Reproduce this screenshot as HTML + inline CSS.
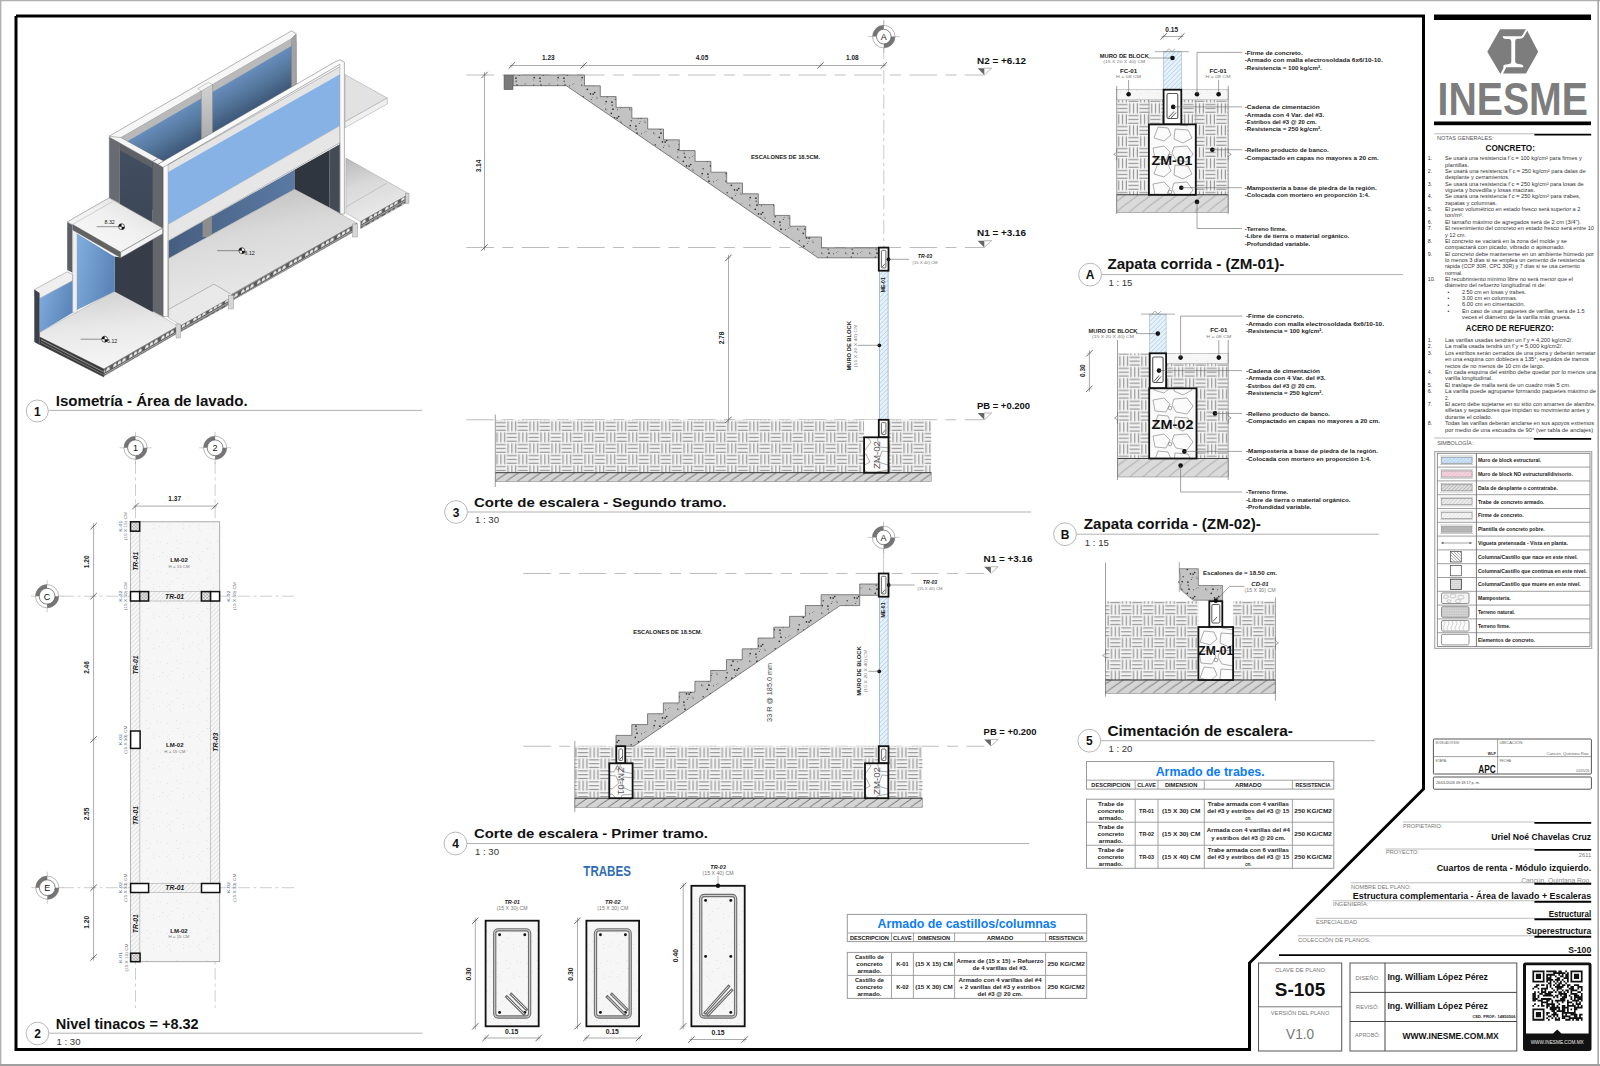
<!DOCTYPE html>
<html><head><meta charset="utf-8"><title>S-105</title>
<style>html,body{margin:0;padding:0;background:#fff;width:1600px;height:1066px;overflow:hidden;font-family:"Liberation Sans",sans-serif}svg{display:block}</style>
</head><body>
<svg width="1600" height="1066" viewBox="0 0 1600 1066" font-family="Liberation Sans, sans-serif"><defs><pattern id="pq3" x="495.3" y="420.8" width="22" height="22" patternUnits="userSpaceOnUse"><rect width="22" height="22" fill="#f4f4f4"/><g stroke="#8e8e8e" stroke-width="1.1"><line x1="0.4" y1="1.8" x2="10.6" y2="1.8"/><line x1="0.4" y1="5.6" x2="10.6" y2="5.6"/><line x1="0.4" y1="9.4" x2="10.6" y2="9.4"/><line x1="12.8" y1="0.4" x2="12.8" y2="10.6"/><line x1="16.6" y1="0.4" x2="16.6" y2="10.6"/><line x1="20.4" y1="0.4" x2="20.4" y2="10.6"/><line x1="1.8" y1="11.4" x2="1.8" y2="21.6"/><line x1="5.6" y1="11.4" x2="5.6" y2="21.6"/><line x1="9.4" y1="11.4" x2="9.4" y2="21.6"/><line x1="11.4" y1="12.8" x2="21.6" y2="12.8"/><line x1="11.4" y1="16.6" x2="21.6" y2="16.6"/><line x1="11.4" y1="20.4" x2="21.6" y2="20.4"/></g></pattern><pattern id="pq4" x="577.5" y="747.1" width="22" height="22" patternUnits="userSpaceOnUse"><rect width="22" height="22" fill="#f4f4f4"/><g stroke="#8e8e8e" stroke-width="1.1"><line x1="0.4" y1="1.8" x2="10.6" y2="1.8"/><line x1="0.4" y1="5.6" x2="10.6" y2="5.6"/><line x1="0.4" y1="9.4" x2="10.6" y2="9.4"/><line x1="12.8" y1="0.4" x2="12.8" y2="10.6"/><line x1="16.6" y1="0.4" x2="16.6" y2="10.6"/><line x1="20.4" y1="0.4" x2="20.4" y2="10.6"/><line x1="1.8" y1="11.4" x2="1.8" y2="21.6"/><line x1="5.6" y1="11.4" x2="5.6" y2="21.6"/><line x1="9.4" y1="11.4" x2="9.4" y2="21.6"/><line x1="11.4" y1="12.8" x2="21.6" y2="12.8"/><line x1="11.4" y1="16.6" x2="21.6" y2="16.6"/><line x1="11.4" y1="20.4" x2="21.6" y2="20.4"/></g></pattern><pattern id="pqA" x="1116.9" y="102.8" width="22" height="22" patternUnits="userSpaceOnUse"><rect width="22" height="22" fill="#f4f4f4"/><g stroke="#8e8e8e" stroke-width="1.1"><line x1="0.4" y1="1.8" x2="10.6" y2="1.8"/><line x1="0.4" y1="5.6" x2="10.6" y2="5.6"/><line x1="0.4" y1="9.4" x2="10.6" y2="9.4"/><line x1="12.8" y1="0.4" x2="12.8" y2="10.6"/><line x1="16.6" y1="0.4" x2="16.6" y2="10.6"/><line x1="20.4" y1="0.4" x2="20.4" y2="10.6"/><line x1="1.8" y1="11.4" x2="1.8" y2="21.6"/><line x1="5.6" y1="11.4" x2="5.6" y2="21.6"/><line x1="9.4" y1="11.4" x2="9.4" y2="21.6"/><line x1="11.4" y1="12.8" x2="21.6" y2="12.8"/><line x1="11.4" y1="16.6" x2="21.6" y2="16.6"/><line x1="11.4" y1="20.4" x2="21.6" y2="20.4"/></g></pattern><pattern id="pqB" x="1107.2" y="355.6" width="22" height="22" patternUnits="userSpaceOnUse"><rect width="22" height="22" fill="#f4f4f4"/><g stroke="#8e8e8e" stroke-width="1.1"><line x1="0.4" y1="1.8" x2="10.6" y2="1.8"/><line x1="0.4" y1="5.6" x2="10.6" y2="5.6"/><line x1="0.4" y1="9.4" x2="10.6" y2="9.4"/><line x1="12.8" y1="0.4" x2="12.8" y2="10.6"/><line x1="16.6" y1="0.4" x2="16.6" y2="10.6"/><line x1="20.4" y1="0.4" x2="20.4" y2="10.6"/><line x1="1.8" y1="11.4" x2="1.8" y2="21.6"/><line x1="5.6" y1="11.4" x2="5.6" y2="21.6"/><line x1="9.4" y1="11.4" x2="9.4" y2="21.6"/><line x1="11.4" y1="12.8" x2="21.6" y2="12.8"/><line x1="11.4" y1="16.6" x2="21.6" y2="16.6"/><line x1="11.4" y1="20.4" x2="21.6" y2="20.4"/></g></pattern><pattern id="pq5" x="1098.7" y="604.2" width="22" height="22" patternUnits="userSpaceOnUse"><rect width="22" height="22" fill="#f4f4f4"/><g stroke="#8e8e8e" stroke-width="1.1"><line x1="0.4" y1="1.8" x2="10.6" y2="1.8"/><line x1="0.4" y1="5.6" x2="10.6" y2="5.6"/><line x1="0.4" y1="9.4" x2="10.6" y2="9.4"/><line x1="12.8" y1="0.4" x2="12.8" y2="10.6"/><line x1="16.6" y1="0.4" x2="16.6" y2="10.6"/><line x1="20.4" y1="0.4" x2="20.4" y2="10.6"/><line x1="1.8" y1="11.4" x2="1.8" y2="21.6"/><line x1="5.6" y1="11.4" x2="5.6" y2="21.6"/><line x1="9.4" y1="11.4" x2="9.4" y2="21.6"/><line x1="11.4" y1="12.8" x2="21.6" y2="12.8"/><line x1="11.4" y1="16.6" x2="21.6" y2="16.6"/><line x1="11.4" y1="20.4" x2="21.6" y2="20.4"/></g></pattern><pattern id="conc" width="24" height="24" patternUnits="userSpaceOnUse"><rect width="24" height="24" fill="#c3c3c3"/><g fill="#333"><circle cx="5.7" cy="13.1" r="0.70"/><circle cx="22.0" cy="11.4" r="0.40"/><circle cx="14.5" cy="21.8" r="0.85"/><circle cx="6.2" cy="5.6" r="0.85"/><circle cx="13.0" cy="13.2" r="0.85"/><circle cx="15.3" cy="3.6" r="0.50"/><circle cx="20.8" cy="12.6" r="0.40"/><circle cx="16.1" cy="1.5" r="0.40"/><circle cx="7.2" cy="0.7" r="0.70"/><circle cx="11.3" cy="17.3" r="0.85"/><circle cx="17.1" cy="22.1" r="0.85"/><circle cx="17.5" cy="13.8" r="0.50"/><circle cx="21.1" cy="2.3" r="0.50"/><circle cx="11.9" cy="6.2" r="0.85"/><circle cx="18.7" cy="20.5" r="0.85"/><circle cx="12.2" cy="9.3" r="0.70"/></g><g fill="none" stroke="#888" stroke-width="0.4"><path d="M11.8,9.0 l1.2,0.6 l-0.9,0.8z"/><path d="M5.1,7.4 l1.2,0.6 l-0.9,0.8z"/><path d="M20.1,0.6 l1.2,0.6 l-0.9,0.8z"/><path d="M6.2,13.3 l1.2,0.6 l-0.9,0.8z"/></g></pattern><pattern id="speck" width="30" height="30" patternUnits="userSpaceOnUse"><rect width="30" height="30" fill="#f6f6f6"/><g fill="#b0b0b0"><circle cx="20.9" cy="21.0" r="0.35"/><circle cx="9.8" cy="16.3" r="0.35"/><circle cx="17.2" cy="3.1" r="0.35"/><circle cx="19.7" cy="19.0" r="0.35"/><circle cx="29.6" cy="8.0" r="0.35"/><circle cx="3.7" cy="14.5" r="0.35"/><circle cx="19.2" cy="14.5" r="0.35"/><circle cx="10.3" cy="2.0" r="0.35"/><circle cx="26.9" cy="0.6" r="0.35"/><circle cx="12.8" cy="12.5" r="0.35"/><circle cx="3.6" cy="18.1" r="0.35"/><circle cx="22.8" cy="11.3" r="0.35"/><circle cx="17.6" cy="16.5" r="0.35"/><circle cx="27.7" cy="8.4" r="0.35"/><circle cx="7.1" cy="1.1" r="0.35"/><circle cx="0.2" cy="3.2" r="0.35"/></g></pattern><pattern id="bh" width="3.2" height="3.2" patternUnits="userSpaceOnUse" patternTransform="rotate(45)"><rect width="3.2" height="3.2" fill="#e8f2fb"/><line x1="0" y1="0" x2="0" y2="3.2" stroke="#86b8e8" stroke-width="0.8"/></pattern><pattern id="gh" width="3.2" height="3.2" patternUnits="userSpaceOnUse" patternTransform="rotate(45)"><rect width="3.2" height="3.2" fill="#f6f6f6"/><line x1="0" y1="0" x2="0" y2="3.2" stroke="#bdbdbd" stroke-width="0.6"/></pattern><pattern id="stone" width="46" height="36" patternUnits="userSpaceOnUse"><rect width="46" height="36" fill="#fbfbfb"/><g fill="none" stroke="#777" stroke-width="0.6"><path d="M3,4 L14,2 L20,8 L16,16 L5,15 Z"/><path d="M24,3 L37,2 L43,10 L37,18 L26,16 L22,9 Z"/><path d="M8,19 L18,20 L21,27 L14,33 L4,30 Z"/><path d="M25,21 L38,22 L42,30 L33,35 L24,31 Z"/><path d="M19,10 l3,1 l-1,3 l-3,-1z"/></g></pattern><pattern id="sim0" width="2.6" height="2.6" patternUnits="userSpaceOnUse" patternTransform="rotate(45)"><rect width="2.6" height="2.6" fill="#cfe3f7"/><line x1="0" y1="0" x2="0" y2="2.6" stroke="#7aaee0" stroke-width="0.55"/></pattern><pattern id="sim1" width="2.6" height="2.6" patternUnits="userSpaceOnUse" patternTransform="rotate(45)"><rect width="2.6" height="2.6" fill="#f3d3de"/><line x1="0" y1="0" x2="0" y2="2.6" stroke="#d89ab0" stroke-width="0.55"/></pattern><pattern id="sim2" width="2.6" height="2.6" patternUnits="userSpaceOnUse" patternTransform="rotate(45)"><rect width="2.6" height="2.6" fill="#e0e0e0"/><line x1="0" y1="0" x2="0" y2="2.6" stroke="#666" stroke-width="0.55"/></pattern><pattern id="sim3" width="2.6" height="2.6" patternUnits="userSpaceOnUse" patternTransform="rotate(45)"><rect width="2.6" height="2.6" fill="#ececec"/><line x1="0" y1="0" x2="0" y2="2.6" stroke="#999" stroke-width="0.55"/></pattern><pattern id="sim4" width="2.6" height="2.6" patternUnits="userSpaceOnUse" patternTransform="rotate(45)"><rect width="2.6" height="2.6" fill="#f5f5f5"/><line x1="0" y1="0" x2="0" y2="2.6" stroke="#bbb" stroke-width="0.55"/></pattern><pattern id="xdot" width="2" height="2" patternUnits="userSpaceOnUse"><rect width="2" height="2" fill="#fff"/><circle cx="1" cy="1" r="0.55" fill="#555"/></pattern><linearGradient id="gBW" gradientUnits="userSpaceOnUse" x1="200" y1="92" x2="222" y2="130"><stop offset="0" stop-color="#6d94c6"/><stop offset="0.5" stop-color="#56799f"/><stop offset="1" stop-color="#3b5475"/></linearGradient><linearGradient id="gBW2" x1="0" y1="0" x2="1" y2="0"><stop offset="0" stop-color="#465e80"/><stop offset="1" stop-color="#5a7aa4"/></linearGradient><linearGradient id="gLB" x1="0" y1="0" x2="1" y2="0.4"><stop offset="0" stop-color="#82aee0"/><stop offset="1" stop-color="#5c86b9"/></linearGradient><linearGradient id="gDK" x1="0" y1="0" x2="0" y2="1"><stop offset="0" stop-color="#435063"/><stop offset="1" stop-color="#333b47"/></linearGradient><linearGradient id="gFL" x1="0" y1="0" x2="0.3" y2="1"><stop offset="0" stop-color="#b9b9b9"/><stop offset="0.45" stop-color="#d9d9d9"/><stop offset="1" stop-color="#eaeaea"/></linearGradient><linearGradient id="gFL2" x1="0.2" y1="0" x2="0.4" y2="1"><stop offset="0" stop-color="#d0d0d0"/><stop offset="0.5" stop-color="#e9e9e9"/><stop offset="1" stop-color="#f5f5f5"/></linearGradient><linearGradient id="gSL" x1="1" y1="0" x2="0" y2="1"><stop offset="0" stop-color="#d8d8d8"/><stop offset="0.45" stop-color="#f0f0f0"/><stop offset="1" stop-color="#fafafa"/></linearGradient><linearGradient id="gCOL" x1="0" y1="0" x2="0" y2="1"><stop offset="0" stop-color="#d2d2d2"/><stop offset="1" stop-color="#8f8f8f"/></linearGradient><pattern id="vb" width="16" height="6.2" patternUnits="userSpaceOnUse" patternTransform="skewY(-30)"><rect width="16" height="6.2" fill="#5a5a5a"/><path d="M0.8,5.2 l0.9,-3 h2.3 l0.9,3z M5.4,5.2 l0.9,-3 h2.3 l0.9,3z M10,5.2 l0.9,-3 h2.3 l0.9,3z" fill="#ececec"/><rect x="0" y="0" width="16" height="1.2" fill="#a8a8a8"/></pattern><pattern id="xh" width="2.4" height="2.4" patternUnits="userSpaceOnUse" patternTransform="rotate(45)"><rect width="2.4" height="2.4" fill="#e8e8e8"/><line x1="0" y1="0" x2="0" y2="2.4" stroke="#777" stroke-width="0.6"/><line x1="0" y1="0" x2="2.4" y2="0" stroke="#777" stroke-width="0.6"/></pattern><pattern id="tf1" x="495.3" y="472.7" width="11.2" height="8.8" patternUnits="userSpaceOnUse"><rect width="11.2" height="8.8" fill="#d5d5d5"/><path d="M-12.20,9.30 C-7.04,4.84 -4.67,3.96 1.68,-0.5" fill="none" stroke="#4a4a4a" stroke-width="0.75"/><path d="M-1.00,9.30 C4.16,4.84 6.53,3.96 12.88,-0.5" fill="none" stroke="#4a4a4a" stroke-width="0.75"/><path d="M10.20,9.30 C15.36,4.84 17.73,3.96 24.08,-0.5" fill="none" stroke="#4a4a4a" stroke-width="0.75"/></pattern><pattern id="tf2" x="574.8" y="798.2" width="11.2" height="9.3" patternUnits="userSpaceOnUse"><rect width="11.2" height="9.3" fill="#d5d5d5"/><path d="M-12.20,9.80 C-6.81,5.12 -4.29,4.19 2.36,-0.5" fill="none" stroke="#4a4a4a" stroke-width="0.75"/><path d="M-1.00,9.80 C4.39,5.12 6.91,4.19 13.56,-0.5" fill="none" stroke="#4a4a4a" stroke-width="0.75"/><path d="M10.20,9.80 C15.59,5.12 18.11,4.19 24.76,-0.5" fill="none" stroke="#4a4a4a" stroke-width="0.75"/></pattern><pattern id="tf3" x="1116.7" y="194.8" width="13" height="17.7" patternUnits="userSpaceOnUse"><rect width="13" height="17.7" fill="#dadada"/><path d="M-14.00,18.20 C-5.57,9.74 -1.32,7.96 9.24,-0.5" fill="none" stroke="#777" stroke-width="0.6"/><path d="M-1.00,18.20 C7.43,9.74 11.68,7.96 22.24,-0.5" fill="none" stroke="#777" stroke-width="0.6"/><path d="M12.00,18.20 C20.43,9.74 24.68,7.96 35.24,-0.5" fill="none" stroke="#777" stroke-width="0.6"/></pattern><pattern id="tf4" x="1117.5" y="458.5" width="13" height="18.5" patternUnits="userSpaceOnUse"><rect width="13" height="18.5" fill="#dadada"/><path d="M-14.00,19.00 C-5.23,10.18 -0.79,8.33 10.20,-0.5" fill="none" stroke="#777" stroke-width="0.6"/><path d="M-1.00,19.00 C7.77,10.18 12.21,8.33 23.20,-0.5" fill="none" stroke="#777" stroke-width="0.6"/><path d="M12.00,19.00 C20.77,10.18 25.21,8.33 36.20,-0.5" fill="none" stroke="#777" stroke-width="0.6"/></pattern><pattern id="tf5" x="1105.5" y="680" width="12" height="13.4" patternUnits="userSpaceOnUse"><rect width="12" height="13.4" fill="#d5d5d5"/><path d="M-13.00,13.90 C-5.90,7.37 -2.42,6.03 6.42,-0.5" fill="none" stroke="#4a4a4a" stroke-width="0.75"/><path d="M-1.00,13.90 C6.10,7.37 9.58,6.03 18.42,-0.5" fill="none" stroke="#4a4a4a" stroke-width="0.75"/><path d="M11.00,13.90 C18.10,7.37 21.58,6.03 30.42,-0.5" fill="none" stroke="#4a4a4a" stroke-width="0.75"/></pattern></defs><rect x="0.00" y="0.00" width="1600.00" height="1066.00" fill="#fff" stroke="none" stroke-width="1"/>
<line x1="0.00" y1="0.50" x2="1600.00" y2="0.50" stroke="#b0b0b0" stroke-width="1.5"/>
<line x1="0.60" y1="0.00" x2="0.60" y2="1066.00" stroke="#b0b0b0" stroke-width="1.5"/>
<line x1="1598.20" y1="0.00" x2="1598.20" y2="1066.00" stroke="#a0a0a0" stroke-width="1.5"/>
<line x1="0.00" y1="1065.00" x2="1600.00" y2="1065.00" stroke="#a0a0a0" stroke-width="2"/>
<polyline points="16.00,16.00 1423.50,16.00 1423.50,789.00 1249.50,963.00 1249.50,1049.50 16.00,1049.50 16.00,16.00" fill="none" stroke="#000" stroke-width="3" stroke-linejoin="miter"/>
<rect x="1434.00" y="14.50" width="157.00" height="5.50" fill="#000" stroke="none" stroke-width="1"/>
<rect x="1434.00" y="121.50" width="157.00" height="3.70" fill="#000" stroke="none" stroke-width="1"/>
<polygon points="1487.30,51.70 1500.10,29.30 1523.50,29.30 1526.50,29.30 1538.20,51.70 1526.00,73.40 1500.10,73.40" fill="#7d7d7d" stroke="none" stroke-width="1"/>
<path d="M1502.6,36.3 L1521.6,36.3 L1522.8,34.6 L1526.8,27.5 L1528.6,28.2 L1524.6,35.6 L1523.2,37.6 Q1522.5,38.6 1520,38.8 L1517.3,38.8 Q1515.2,39.2 1515.2,41.3 L1515.2,61.6 Q1515.2,63.5 1517.3,63.7 L1521.5,64.4 Q1523.4,64.8 1523.3,66.4 L1523.3,67.2 L1506.3,67.2 L1502.6,74.5 L1500.6,73.8 L1503.6,67.6 Q1502.8,66.2 1503.6,65.6 Q1504.4,64.6 1506.3,64.5 L1509.3,64.1 Q1511.3,63.6 1511.3,61.6 L1511.3,41.3 Q1511.2,39.3 1509.2,38.9 L1505.8,38.9 Q1503,38.9 1502.6,36.3 Z" fill="#fff"/>
<text x="1437.50" y="114.90" font-size="45.5" fill="#7d7d7d" font-weight="bold" textLength="150.50" lengthAdjust="spacingAndGlyphs">INESME</text>
<line x1="1434.30" y1="133.80" x2="1534.40" y2="133.80" stroke="#b8b8b8" stroke-width="1"/>
<line x1="1534.40" y1="134.70" x2="1591.20" y2="134.70" stroke="#000" stroke-width="1.8"/>
<text x="1437.00" y="137.90" font-size="5.8" fill="#555" textLength="56.50" lengthAdjust="spacingAndGlyphs" dominant-baseline="central">NOTAS GENERALES:</text>
<text x="1485.50" y="147.60" font-size="8.6" fill="#111" font-weight="bold" textLength="49.40" lengthAdjust="spacingAndGlyphs" dominant-baseline="central">CONCRETO:</text>
<text x="1427.70" y="158.20" font-size="5.3" fill="#333" dominant-baseline="central">1.</text>
<text x="1445.00" y="158.20" font-size="5.3" fill="#333" textLength="136.70" lengthAdjust="spacingAndGlyphs" dominant-baseline="central">Se usará una resistencia f´c = 100 kg/cm² para firmes y</text>
<text x="1445.00" y="164.56" font-size="5.3" fill="#333" textLength="24.00" lengthAdjust="spacingAndGlyphs" dominant-baseline="central">plantillas.</text>
<text x="1427.70" y="170.92" font-size="5.3" fill="#333" dominant-baseline="central">2.</text>
<text x="1445.00" y="170.92" font-size="5.3" fill="#333" textLength="140.60" lengthAdjust="spacingAndGlyphs" dominant-baseline="central">Se usará una resistencia f´c = 250 kg/cm² para dalas de</text>
<text x="1445.00" y="177.28" font-size="5.3" fill="#333" textLength="64.60" lengthAdjust="spacingAndGlyphs" dominant-baseline="central">desplante y cerramientos.</text>
<text x="1427.70" y="183.64" font-size="5.3" fill="#333" dominant-baseline="central">3.</text>
<text x="1445.00" y="183.64" font-size="5.3" fill="#333" textLength="138.70" lengthAdjust="spacingAndGlyphs" dominant-baseline="central">Se usará una resistencia f´c = 250 kg/cm² para losas de</text>
<text x="1445.00" y="190.00" font-size="5.3" fill="#333" textLength="90.00" lengthAdjust="spacingAndGlyphs" dominant-baseline="central">vigueta y bovedilla y losas macizas.</text>
<text x="1427.70" y="196.36" font-size="5.3" fill="#333" dominant-baseline="central">4.</text>
<text x="1445.00" y="196.36" font-size="5.3" fill="#333" textLength="135.40" lengthAdjust="spacingAndGlyphs" dominant-baseline="central">Se usará una resistencia f´c = 250 kg/cm² para trabes,</text>
<text x="1445.00" y="202.72" font-size="5.3" fill="#333" textLength="52.00" lengthAdjust="spacingAndGlyphs" dominant-baseline="central">zapatas y columnas.</text>
<text x="1427.70" y="209.08" font-size="5.3" fill="#333" dominant-baseline="central">5.</text>
<text x="1445.00" y="209.08" font-size="5.3" fill="#333" textLength="135.40" lengthAdjust="spacingAndGlyphs" dominant-baseline="central">El peso volumétrico en estado fresco será superior a 2</text>
<text x="1445.00" y="215.44" font-size="5.3" fill="#333" textLength="18.50" lengthAdjust="spacingAndGlyphs" dominant-baseline="central">ton/m³.</text>
<text x="1427.70" y="221.80" font-size="5.3" fill="#333" dominant-baseline="central">6.</text>
<text x="1445.00" y="221.80" font-size="5.3" fill="#333" textLength="136.00" lengthAdjust="spacingAndGlyphs" dominant-baseline="central">El tamaño máximo de agregados será de 2 cm (3/4").</text>
<text x="1427.70" y="228.16" font-size="5.3" fill="#333" dominant-baseline="central">7.</text>
<text x="1445.00" y="228.16" font-size="5.3" fill="#333" textLength="149.00" lengthAdjust="spacingAndGlyphs" dominant-baseline="central">El revenimiento del concreto en estado fresco será entre 10</text>
<text x="1445.00" y="234.52" font-size="5.3" fill="#333" textLength="21.00" lengthAdjust="spacingAndGlyphs" dominant-baseline="central">y 12 cm.</text>
<text x="1427.70" y="240.88" font-size="5.3" fill="#333" dominant-baseline="central">8.</text>
<text x="1445.00" y="240.88" font-size="5.3" fill="#333" textLength="122.00" lengthAdjust="spacingAndGlyphs" dominant-baseline="central">El concreto se vaciará en la zona del molde y se</text>
<text x="1445.00" y="247.24" font-size="5.3" fill="#333" textLength="120.00" lengthAdjust="spacingAndGlyphs" dominant-baseline="central">compactará con picado, vibrado o apisonado.</text>
<text x="1427.70" y="253.60" font-size="5.3" fill="#333" dominant-baseline="central">9.</text>
<text x="1445.00" y="253.60" font-size="5.3" fill="#333" textLength="149.00" lengthAdjust="spacingAndGlyphs" dominant-baseline="central">El concreto debe mantenerse en un ambiente húmedo por</text>
<text x="1445.00" y="259.96" font-size="5.3" fill="#333" textLength="139.60" lengthAdjust="spacingAndGlyphs" dominant-baseline="central">lo menos 3 días si se emplea un cemento de resistencia</text>
<text x="1445.00" y="266.32" font-size="5.3" fill="#333" textLength="134.80" lengthAdjust="spacingAndGlyphs" dominant-baseline="central">rápida (CCP 30R, CPC 30R) y 7 días si se usa cemento</text>
<text x="1445.00" y="272.68" font-size="5.3" fill="#333" textLength="17.50" lengthAdjust="spacingAndGlyphs" dominant-baseline="central">normal.</text>
<text x="1427.70" y="279.04" font-size="5.3" fill="#333" dominant-baseline="central">10.</text>
<text x="1445.00" y="279.04" font-size="5.3" fill="#333" textLength="128.00" lengthAdjust="spacingAndGlyphs" dominant-baseline="central">El recubrimiento mínimo libre no será menor que el</text>
<text x="1445.00" y="285.40" font-size="5.3" fill="#333" textLength="101.00" lengthAdjust="spacingAndGlyphs" dominant-baseline="central">diámetro del refuerzo longitudinal ni de:</text>
<text x="1447.50" y="292.06" font-size="5" fill="#333" dominant-baseline="central">•</text>
<text x="1462.00" y="291.76" font-size="5.3" fill="#333" textLength="64.00" lengthAdjust="spacingAndGlyphs" dominant-baseline="central">2.50 cm en losas y trabes.</text>
<text x="1447.50" y="298.42" font-size="5" fill="#333" dominant-baseline="central">•</text>
<text x="1462.00" y="298.12" font-size="5.3" fill="#333" textLength="55.30" lengthAdjust="spacingAndGlyphs" dominant-baseline="central">3.00 cm en columnas.</text>
<text x="1447.50" y="304.78" font-size="5" fill="#333" dominant-baseline="central">•</text>
<text x="1462.00" y="304.48" font-size="5.3" fill="#333" textLength="63.00" lengthAdjust="spacingAndGlyphs" dominant-baseline="central">6.00 cm en cimentación.</text>
<text x="1447.50" y="311.14" font-size="5" fill="#333" dominant-baseline="central">•</text>
<text x="1462.00" y="310.84" font-size="5.3" fill="#333" textLength="122.60" lengthAdjust="spacingAndGlyphs" dominant-baseline="central">En caso de usar paquetes de varillas, será de 1.5</text>
<text x="1462.00" y="317.20" font-size="5.3" fill="#333" textLength="109.00" lengthAdjust="spacingAndGlyphs" dominant-baseline="central">veces el diámetro de la varilla más gruesa.</text>
<text x="1465.80" y="328.40" font-size="8.6" fill="#111" font-weight="bold" textLength="88.00" lengthAdjust="spacingAndGlyphs" dominant-baseline="central">ACERO DE REFUERZO:</text>
<text x="1427.70" y="339.90" font-size="5.3" fill="#333" dominant-baseline="central">1.</text>
<text x="1445.00" y="339.90" font-size="5.3" fill="#333" textLength="128.00" lengthAdjust="spacingAndGlyphs" dominant-baseline="central">Las varillas usadas tendrán un f´y = 4,200 kg/cm2/.</text>
<text x="1427.70" y="346.30" font-size="5.3" fill="#333" dominant-baseline="central">2.</text>
<text x="1445.00" y="346.30" font-size="5.3" fill="#333" textLength="118.00" lengthAdjust="spacingAndGlyphs" dominant-baseline="central">La malla usada tendrá un f´y = 5,000 kg/cm2/.</text>
<text x="1427.70" y="352.70" font-size="5.3" fill="#333" dominant-baseline="central">3.</text>
<text x="1445.00" y="352.70" font-size="5.3" fill="#333" textLength="150.50" lengthAdjust="spacingAndGlyphs" dominant-baseline="central">Los estribos serán cerrados de una pieza y deberán rematar</text>
<text x="1445.00" y="359.10" font-size="5.3" fill="#333" textLength="143.90" lengthAdjust="spacingAndGlyphs" dominant-baseline="central">en una esquina con dobleces a 135°, seguidos de tramos</text>
<text x="1445.00" y="365.50" font-size="5.3" fill="#333" textLength="99.40" lengthAdjust="spacingAndGlyphs" dominant-baseline="central">rectos de no menos de 10 cm de largo.</text>
<text x="1427.70" y="371.90" font-size="5.3" fill="#333" dominant-baseline="central">4.</text>
<text x="1445.00" y="371.90" font-size="5.3" fill="#333" textLength="151.00" lengthAdjust="spacingAndGlyphs" dominant-baseline="central">En cada esquina del estribo debe quedar por lo menos una</text>
<text x="1445.00" y="378.30" font-size="5.3" fill="#333" textLength="47.70" lengthAdjust="spacingAndGlyphs" dominant-baseline="central">varilla longitudinal.</text>
<text x="1427.70" y="384.70" font-size="5.3" fill="#333" dominant-baseline="central">5.</text>
<text x="1445.00" y="384.70" font-size="5.3" fill="#333" textLength="125.50" lengthAdjust="spacingAndGlyphs" dominant-baseline="central">El traslape de malla será de un cuadro más 5 cm.</text>
<text x="1427.70" y="391.10" font-size="5.3" fill="#333" dominant-baseline="central">6.</text>
<text x="1445.00" y="391.10" font-size="5.3" fill="#333" textLength="151.00" lengthAdjust="spacingAndGlyphs" dominant-baseline="central">La varilla puede agruparse formando paquetes máximo de</text>
<text x="1445.00" y="397.50" font-size="5.3" fill="#333" textLength="4.00" lengthAdjust="spacingAndGlyphs" dominant-baseline="central">2.</text>
<text x="1427.70" y="403.90" font-size="5.3" fill="#333" dominant-baseline="central">7.</text>
<text x="1445.00" y="403.90" font-size="5.3" fill="#333" textLength="150.70" lengthAdjust="spacingAndGlyphs" dominant-baseline="central">El acero debe sujetarse en su sitio con amarres de alambre,</text>
<text x="1445.00" y="410.30" font-size="5.3" fill="#333" textLength="144.50" lengthAdjust="spacingAndGlyphs" dominant-baseline="central">silletas y separadores que impidan su movimiento antes y</text>
<text x="1445.00" y="416.70" font-size="5.3" fill="#333" textLength="47.30" lengthAdjust="spacingAndGlyphs" dominant-baseline="central">durante el colado.</text>
<text x="1427.70" y="423.10" font-size="5.3" fill="#333" dominant-baseline="central">8.</text>
<text x="1445.00" y="423.10" font-size="5.3" fill="#333" textLength="149.00" lengthAdjust="spacingAndGlyphs" dominant-baseline="central">Todas las varillas deberán anclarse en sus apoyos extremos</text>
<text x="1445.00" y="429.50" font-size="5.3" fill="#333" textLength="148.20" lengthAdjust="spacingAndGlyphs" dominant-baseline="central">por medio de una escuadra de 90° (ver tabla de anclajes)</text>
<line x1="1434.20" y1="438.00" x2="1533.80" y2="438.00" stroke="#b8b8b8" stroke-width="1"/>
<line x1="1533.80" y1="438.90" x2="1591.20" y2="438.90" stroke="#000" stroke-width="1.8"/>
<text x="1437.20" y="443.40" font-size="5.8" fill="#555" textLength="36.00" lengthAdjust="spacingAndGlyphs" dominant-baseline="central">SIMBOLOGÍA:</text>
<rect x="1434.70" y="451.60" width="157.00" height="196.80" fill="#fff" stroke="#aaa" stroke-width="1.2"/>
<rect x="1437.30" y="453.30" width="152.70" height="193.20" fill="#fff" stroke="#777" stroke-width="0.8"/>
<line x1="1476.40" y1="453.30" x2="1476.40" y2="646.50" stroke="#555" stroke-width="0.8"/>
<text x="1477.90" y="460.20" font-size="5.2" fill="#222" font-weight="bold" textLength="63.10" lengthAdjust="spacingAndGlyphs" dominant-baseline="central">Muro de block estructural.</text>
<rect x="1441.20" y="457.20" width="30.80" height="6.00" fill="#cfe3f7" stroke="#888" stroke-width="0.5"/>
<rect x="1441.20" y="457.20" width="30.80" height="6.00" fill="url(#sim0)" stroke="#888" stroke-width="0.5"/>
<line x1="1440.20" y1="455.90" x2="1473.00" y2="455.90" stroke="#999" stroke-width="0.5"/>
<line x1="1440.20" y1="464.50" x2="1473.00" y2="464.50" stroke="#999" stroke-width="0.5"/>
<line x1="1437.30" y1="467.10" x2="1590.00" y2="467.10" stroke="#777" stroke-width="0.7"/>
<text x="1477.90" y="474.00" font-size="5.2" fill="#222" font-weight="bold" textLength="94.90" lengthAdjust="spacingAndGlyphs" dominant-baseline="central">Muro de block NO estructural/divisorio.</text>
<rect x="1441.20" y="471.00" width="30.80" height="6.00" fill="#f3d3de" stroke="#888" stroke-width="0.5"/>
<rect x="1441.20" y="471.00" width="30.80" height="6.00" fill="url(#sim1)" stroke="#888" stroke-width="0.5"/>
<line x1="1440.20" y1="469.70" x2="1473.00" y2="469.70" stroke="#999" stroke-width="0.5"/>
<line x1="1440.20" y1="478.30" x2="1473.00" y2="478.30" stroke="#999" stroke-width="0.5"/>
<line x1="1437.30" y1="480.90" x2="1590.00" y2="480.90" stroke="#777" stroke-width="0.7"/>
<text x="1477.90" y="487.80" font-size="5.2" fill="#222" font-weight="bold" textLength="79.80" lengthAdjust="spacingAndGlyphs" dominant-baseline="central">Dala de desplante o contratrabe.</text>
<rect x="1441.20" y="484.80" width="30.80" height="6.00" fill="#e0e0e0" stroke="#888" stroke-width="0.5"/>
<rect x="1441.20" y="484.80" width="30.80" height="6.00" fill="url(#sim2)" stroke="#888" stroke-width="0.5"/>
<line x1="1440.20" y1="483.50" x2="1473.00" y2="483.50" stroke="#999" stroke-width="0.5"/>
<line x1="1440.20" y1="492.10" x2="1473.00" y2="492.10" stroke="#999" stroke-width="0.5"/>
<line x1="1437.30" y1="494.70" x2="1590.00" y2="494.70" stroke="#777" stroke-width="0.7"/>
<text x="1477.90" y="501.60" font-size="5.2" fill="#222" font-weight="bold" textLength="66.40" lengthAdjust="spacingAndGlyphs" dominant-baseline="central">Trabe de concreto armado.</text>
<rect x="1441.20" y="498.60" width="30.80" height="6.00" fill="#ececec" stroke="#888" stroke-width="0.5"/>
<rect x="1441.20" y="498.60" width="30.80" height="6.00" fill="url(#sim3)" stroke="#888" stroke-width="0.5"/>
<line x1="1440.20" y1="497.30" x2="1473.00" y2="497.30" stroke="#999" stroke-width="0.5"/>
<line x1="1440.20" y1="505.90" x2="1473.00" y2="505.90" stroke="#999" stroke-width="0.5"/>
<line x1="1437.30" y1="508.50" x2="1590.00" y2="508.50" stroke="#777" stroke-width="0.7"/>
<text x="1477.90" y="515.40" font-size="5.2" fill="#222" font-weight="bold" textLength="45.70" lengthAdjust="spacingAndGlyphs" dominant-baseline="central">Firme de concreto.</text>
<rect x="1441.20" y="512.40" width="30.80" height="6.00" fill="#f5f5f5" stroke="#888" stroke-width="0.5"/>
<rect x="1441.20" y="512.40" width="30.80" height="6.00" fill="url(#sim4)" stroke="#888" stroke-width="0.5"/>
<line x1="1440.20" y1="511.10" x2="1473.00" y2="511.10" stroke="#999" stroke-width="0.5"/>
<line x1="1440.20" y1="519.70" x2="1473.00" y2="519.70" stroke="#999" stroke-width="0.5"/>
<line x1="1437.30" y1="522.30" x2="1590.00" y2="522.30" stroke="#777" stroke-width="0.7"/>
<text x="1477.90" y="529.20" font-size="5.2" fill="#222" font-weight="bold" textLength="66.90" lengthAdjust="spacingAndGlyphs" dominant-baseline="central">Plantilla de concreto pobre.</text>
<rect x="1441.20" y="526.20" width="30.80" height="6.00" fill="#b5b5b5" stroke="#888" stroke-width="0.5"/>
<line x1="1440.20" y1="524.90" x2="1473.00" y2="524.90" stroke="#999" stroke-width="0.5"/>
<line x1="1440.20" y1="533.50" x2="1473.00" y2="533.50" stroke="#999" stroke-width="0.5"/>
<line x1="1437.30" y1="536.10" x2="1590.00" y2="536.10" stroke="#777" stroke-width="0.7"/>
<text x="1477.90" y="543.00" font-size="5.2" fill="#222" font-weight="bold" textLength="90.00" lengthAdjust="spacingAndGlyphs" dominant-baseline="central">Vigueta pretensada - Vista en planta.</text>
<line x1="1441.50" y1="543.00" x2="1471.50" y2="543.00" stroke="#666" stroke-width="0.6"/>
<polygon points="1441.00,543.00 1443.50,541.80 1443.50,544.20" fill="#666" stroke="none" stroke-width="1"/>
<polygon points="1472.00,543.00 1469.50,541.80 1469.50,544.20" fill="#666" stroke="none" stroke-width="1"/>
<line x1="1437.30" y1="549.90" x2="1590.00" y2="549.90" stroke="#777" stroke-width="0.7"/>
<text x="1477.90" y="556.80" font-size="5.2" fill="#222" font-weight="bold" textLength="99.90" lengthAdjust="spacingAndGlyphs" dominant-baseline="central">Columna/Castillo que nace en este nivel.</text>
<rect x="1450.50" y="551.60" width="10.80" height="10.40" fill="#fff" stroke="#444" stroke-width="0.7"/>
<line x1="1450.50" y1="551.60" x2="1461.30" y2="562.00" stroke="#666" stroke-width="0.5"/>
<line x1="1450.50" y1="551.60" x2="1461.30" y2="562.00" stroke="#666" stroke-width="0.5"/>
<line x1="1453.50" y1="551.60" x2="1461.30" y2="559.00" stroke="#666" stroke-width="0.5"/>
<line x1="1450.50" y1="554.60" x2="1458.30" y2="562.00" stroke="#666" stroke-width="0.5"/>
<line x1="1456.50" y1="551.60" x2="1461.30" y2="556.00" stroke="#666" stroke-width="0.5"/>
<line x1="1450.50" y1="557.60" x2="1455.30" y2="562.00" stroke="#666" stroke-width="0.5"/>
<line x1="1459.50" y1="551.60" x2="1461.30" y2="553.00" stroke="#666" stroke-width="0.5"/>
<line x1="1450.50" y1="560.60" x2="1452.30" y2="562.00" stroke="#666" stroke-width="0.5"/>
<line x1="1437.30" y1="563.70" x2="1590.00" y2="563.70" stroke="#777" stroke-width="0.7"/>
<text x="1477.90" y="570.60" font-size="5.2" fill="#222" font-weight="bold" textLength="108.90" lengthAdjust="spacingAndGlyphs" dominant-baseline="central">Columna/Castillo que continua en este nivel.</text>
<rect x="1450.50" y="565.40" width="10.80" height="10.40" fill="#fff" stroke="#444" stroke-width="0.7"/>
<line x1="1437.30" y1="577.50" x2="1590.00" y2="577.50" stroke="#777" stroke-width="0.7"/>
<text x="1477.90" y="584.40" font-size="5.2" fill="#222" font-weight="bold" textLength="102.90" lengthAdjust="spacingAndGlyphs" dominant-baseline="central">Columna/Castillo que muere en este nivel.</text>
<rect x="1450.50" y="579.20" width="10.80" height="10.40" fill="#fff" stroke="#444" stroke-width="0.7"/>
<rect x="1450.50" y="579.20" width="10.80" height="10.40" fill="url(#xdot)" stroke="#444" stroke-width="0.7"/>
<line x1="1437.30" y1="591.30" x2="1590.00" y2="591.30" stroke="#777" stroke-width="0.7"/>
<text x="1477.90" y="598.20" font-size="5.2" fill="#222" font-weight="bold" textLength="32.80" lengthAdjust="spacingAndGlyphs" dominant-baseline="central">Mampostería.</text>
<rect x="1441.50" y="592.90" width="27.50" height="10.60" fill="#f4f4f4" stroke="#666" stroke-width="0.7" rx="1.5"/>
<ellipse cx="1446" cy="596.6999999999999" rx="2.5" ry="1.75" fill="none" stroke="#888" stroke-width="0.4"/>
<ellipse cx="1453" cy="595.9999999999999" rx="3" ry="2.10" fill="none" stroke="#888" stroke-width="0.4"/>
<ellipse cx="1461" cy="597.1999999999999" rx="3" ry="2.10" fill="none" stroke="#888" stroke-width="0.4"/>
<ellipse cx="1449" cy="601.1999999999999" rx="2" ry="1.40" fill="none" stroke="#888" stroke-width="0.4"/>
<ellipse cx="1458" cy="601.1999999999999" rx="2.5" ry="1.75" fill="none" stroke="#888" stroke-width="0.4"/>
<line x1="1437.30" y1="605.10" x2="1590.00" y2="605.10" stroke="#777" stroke-width="0.7"/>
<text x="1477.90" y="612.00" font-size="5.2" fill="#222" font-weight="bold" textLength="37.10" lengthAdjust="spacingAndGlyphs" dominant-baseline="central">Terreno natural.</text>
<rect x="1441.50" y="606.70" width="27.50" height="10.60" fill="#c9c9c9" stroke="#666" stroke-width="0.7" rx="1.5"/>
<line x1="1442.50" y1="608.00" x2="1468.00" y2="608.00" stroke="#eee" stroke-width="0.6" stroke-dasharray="1.2 0.6"/>
<line x1="1442.50" y1="610.60" x2="1468.00" y2="610.60" stroke="#eee" stroke-width="0.6" stroke-dasharray="1.2 0.6"/>
<line x1="1442.50" y1="613.20" x2="1468.00" y2="613.20" stroke="#eee" stroke-width="0.6" stroke-dasharray="1.2 0.6"/>
<line x1="1442.50" y1="615.80" x2="1468.00" y2="615.80" stroke="#eee" stroke-width="0.6" stroke-dasharray="1.2 0.6"/>
<line x1="1437.30" y1="618.90" x2="1590.00" y2="618.90" stroke="#777" stroke-width="0.7"/>
<text x="1477.90" y="625.80" font-size="5.2" fill="#222" font-weight="bold" textLength="32.30" lengthAdjust="spacingAndGlyphs" dominant-baseline="central">Terreno firme.</text>
<rect x="1441.50" y="620.50" width="27.50" height="10.60" fill="#fafafa" stroke="#666" stroke-width="0.7" rx="1.5"/>
<path d="M1444,620.8 q2,2.5 0,5 q-2,2.5 0,5" fill="none" stroke="#999" stroke-width="0.4"/>
<path d="M1448,620.8 q2,2.5 0,5 q-2,2.5 0,5" fill="none" stroke="#999" stroke-width="0.4"/>
<path d="M1452,620.8 q2,2.5 0,5 q-2,2.5 0,5" fill="none" stroke="#999" stroke-width="0.4"/>
<path d="M1456,620.8 q2,2.5 0,5 q-2,2.5 0,5" fill="none" stroke="#999" stroke-width="0.4"/>
<path d="M1460,620.8 q2,2.5 0,5 q-2,2.5 0,5" fill="none" stroke="#999" stroke-width="0.4"/>
<path d="M1464,620.8 q2,2.5 0,5 q-2,2.5 0,5" fill="none" stroke="#999" stroke-width="0.4"/>
<line x1="1437.30" y1="632.70" x2="1590.00" y2="632.70" stroke="#777" stroke-width="0.7"/>
<text x="1477.90" y="639.60" font-size="5.2" fill="#222" font-weight="bold" textLength="57.10" lengthAdjust="spacingAndGlyphs" dominant-baseline="central">Elementos de concreto.</text>
<rect x="1441.50" y="634.30" width="27.50" height="10.60" fill="#fff" stroke="#666" stroke-width="0.7" rx="1.5"/>
<rect x="1433.40" y="739.00" width="158.00" height="35.00" fill="#fff" stroke="#555" stroke-width="1" rx="1"/>
<line x1="1433.40" y1="756.60" x2="1591.40" y2="756.60" stroke="#666" stroke-width="0.6"/>
<line x1="1497.60" y1="739.00" x2="1497.60" y2="774.00" stroke="#666" stroke-width="0.6"/>
<text x="1435.50" y="742.70" font-size="3.4" fill="#666" textLength="24.00" lengthAdjust="spacingAndGlyphs" dominant-baseline="central">MODELADOR BIM:</text>
<text x="1499.40" y="742.70" font-size="3.4" fill="#666" textLength="24.00" lengthAdjust="spacingAndGlyphs" dominant-baseline="central">UBICACIÓN:</text>
<text x="1495.80" y="753.90" font-size="3.6" fill="#222" font-weight="bold" text-anchor="end" dominant-baseline="central">WLP</text>
<text x="1589.50" y="753.90" font-size="3.6" fill="#666" text-anchor="end" textLength="43.00" lengthAdjust="spacingAndGlyphs" dominant-baseline="central">Cancún, Quintana Roo.</text>
<text x="1435.50" y="760.90" font-size="3.4" fill="#666" dominant-baseline="central">ETAPA:</text>
<text x="1499.40" y="760.90" font-size="3.4" fill="#666" dominant-baseline="central">FECHA:</text>
<text x="1495.80" y="769.20" font-size="10" fill="#111" font-weight="bold" text-anchor="end" textLength="17.50" lengthAdjust="spacingAndGlyphs" dominant-baseline="central">APC</text>
<text x="1589.50" y="770.60" font-size="3.4" fill="#666" text-anchor="end" dominant-baseline="central">01/05/26</text>
<rect x="1433.40" y="777.00" width="158.00" height="12.20" fill="#fff" stroke="#555" stroke-width="1" rx="1"/>
<text x="1436.00" y="783.30" font-size="3" fill="#444" textLength="44.00" lengthAdjust="spacingAndGlyphs" dominant-baseline="central">26/01/2026 09:18:17 p. m.</text>
<line x1="1403.00" y1="822.00" x2="1534.40" y2="822.00" stroke="#b5b5b5" stroke-width="0.9"/>
<line x1="1534.40" y1="822.90" x2="1591.20" y2="822.90" stroke="#000" stroke-width="1.9"/>
<text x="1403.00" y="826.30" font-size="5.8" fill="#777" textLength="39.50" lengthAdjust="spacingAndGlyphs" dominant-baseline="central">PROPIETARIO:</text>
<text x="1591.20" y="836.00" font-size="9.8" fill="#111" font-weight="bold" text-anchor="end" textLength="100.00" lengthAdjust="spacingAndGlyphs" dominant-baseline="central">Uriel Noé Chavelas Cruz</text>
<line x1="1385.60" y1="849.00" x2="1534.40" y2="849.00" stroke="#b5b5b5" stroke-width="0.9"/>
<line x1="1534.40" y1="849.90" x2="1591.20" y2="849.90" stroke="#000" stroke-width="1.9"/>
<text x="1386.00" y="852.30" font-size="5.8" fill="#777" textLength="33.00" lengthAdjust="spacingAndGlyphs" dominant-baseline="central">PROYECTO:</text>
<text x="1591.20" y="855.00" font-size="5.8" fill="#777" text-anchor="end" dominant-baseline="central">2611</text>
<text x="1591.20" y="867.60" font-size="9.8" fill="#111" font-weight="bold" text-anchor="end" textLength="154.50" lengthAdjust="spacingAndGlyphs" dominant-baseline="central">Cuartos de renta - Módulo izquierdo.</text>
<text x="1591.20" y="880.00" font-size="6.5" fill="#888" text-anchor="end" textLength="70.00" lengthAdjust="spacingAndGlyphs" dominant-baseline="central">Cancún, Quintana Roo.</text>
<line x1="1350.60" y1="882.80" x2="1534.40" y2="882.80" stroke="#b5b5b5" stroke-width="0.9"/>
<line x1="1534.40" y1="883.70" x2="1591.20" y2="883.70" stroke="#000" stroke-width="1.9"/>
<text x="1351.00" y="886.90" font-size="5.8" fill="#777" textLength="60.00" lengthAdjust="spacingAndGlyphs" dominant-baseline="central">NOMBRE DEL PLANO:</text>
<text x="1591.20" y="895.60" font-size="9.8" fill="#111" font-weight="bold" text-anchor="end" textLength="238.40" lengthAdjust="spacingAndGlyphs" dominant-baseline="central">Estructura complementaria - Área de lavado + Escaleras</text>
<line x1="1333.00" y1="900.80" x2="1534.40" y2="900.80" stroke="#b5b5b5" stroke-width="0.9"/>
<line x1="1534.40" y1="901.70" x2="1591.20" y2="901.70" stroke="#000" stroke-width="1.9"/>
<text x="1333.00" y="904.20" font-size="5.8" fill="#777" textLength="35.50" lengthAdjust="spacingAndGlyphs" dominant-baseline="central">INGENIERÍA:</text>
<text x="1591.20" y="913.20" font-size="9.8" fill="#111" font-weight="bold" text-anchor="end" textLength="42.50" lengthAdjust="spacingAndGlyphs" dominant-baseline="central">Estructural</text>
<line x1="1315.60" y1="918.30" x2="1534.40" y2="918.30" stroke="#b5b5b5" stroke-width="0.9"/>
<line x1="1534.40" y1="919.20" x2="1591.20" y2="919.20" stroke="#000" stroke-width="1.9"/>
<text x="1316.00" y="922.00" font-size="5.8" fill="#777" textLength="41.00" lengthAdjust="spacingAndGlyphs" dominant-baseline="central">ESPECIALIDAD</text>
<text x="1591.20" y="930.60" font-size="9.8" fill="#111" font-weight="bold" text-anchor="end" textLength="65.00" lengthAdjust="spacingAndGlyphs" dominant-baseline="central">Superestructura</text>
<line x1="1298.00" y1="935.80" x2="1534.40" y2="935.80" stroke="#b5b5b5" stroke-width="0.9"/>
<line x1="1534.40" y1="936.70" x2="1591.20" y2="936.70" stroke="#000" stroke-width="1.9"/>
<text x="1298.00" y="939.50" font-size="5.8" fill="#777" textLength="72.50" lengthAdjust="spacingAndGlyphs" dominant-baseline="central">COLECCIÓN DE PLANOS:</text>
<text x="1591.20" y="949.20" font-size="9.8" fill="#111" font-weight="bold" text-anchor="end" textLength="23.00" lengthAdjust="spacingAndGlyphs" dominant-baseline="central">S-100</text>
<line x1="1279.00" y1="955.20" x2="1591.20" y2="955.20" stroke="#000" stroke-width="1.8"/>
<rect x="1258.50" y="963.00" width="83.20" height="88.00" fill="#fff" stroke="#555" stroke-width="1"/>
<line x1="1258.50" y1="1006.80" x2="1341.70" y2="1006.80" stroke="#555" stroke-width="0.8"/>
<text x="1300.10" y="969.50" font-size="5.5" fill="#777" text-anchor="middle" textLength="50.00" lengthAdjust="spacingAndGlyphs" dominant-baseline="central">CLAVE DE PLANO</text>
<text x="1300.10" y="996.20" font-size="19" fill="#111" font-weight="bold" text-anchor="middle" textLength="50.50" lengthAdjust="spacingAndGlyphs">S-105</text>
<text x="1300.10" y="1013.30" font-size="5.5" fill="#777" text-anchor="middle" textLength="58.50" lengthAdjust="spacingAndGlyphs" dominant-baseline="central">VERSIÓN DEL PLANO</text>
<text x="1300.10" y="1039.00" font-size="15" fill="#777" text-anchor="middle" textLength="28.00" lengthAdjust="spacingAndGlyphs">V1.0</text>
<rect x="1350.00" y="963.00" width="166.80" height="88.00" fill="#fff" stroke="#555" stroke-width="1"/>
<line x1="1385.00" y1="963.00" x2="1385.00" y2="1051.00" stroke="#444" stroke-width="1"/>
<line x1="1350.00" y1="992.40" x2="1516.80" y2="992.40" stroke="#444" stroke-width="1"/>
<line x1="1350.00" y1="1021.50" x2="1516.80" y2="1021.50" stroke="#444" stroke-width="1"/>
<text x="1367.60" y="978.00" font-size="5.2" fill="#777" text-anchor="middle" textLength="24.00" lengthAdjust="spacingAndGlyphs" dominant-baseline="central">DISEÑO:</text>
<text x="1367.60" y="1007.20" font-size="5.2" fill="#777" text-anchor="middle" textLength="23.00" lengthAdjust="spacingAndGlyphs" dominant-baseline="central">REVISÓ:</text>
<text x="1367.60" y="1034.80" font-size="5.2" fill="#777" text-anchor="middle" textLength="25.00" lengthAdjust="spacingAndGlyphs" dominant-baseline="central">APROBÓ:</text>
<text x="1387.40" y="977.20" font-size="8.8" fill="#111" font-weight="bold" textLength="100.50" lengthAdjust="spacingAndGlyphs" dominant-baseline="central">Ing. William López Pérez</text>
<text x="1387.40" y="1006.30" font-size="8.8" fill="#111" font-weight="bold" textLength="100.50" lengthAdjust="spacingAndGlyphs" dominant-baseline="central">Ing. William López Pérez</text>
<text x="1515.50" y="1017.30" font-size="2.8" fill="#222" font-weight="bold" text-anchor="end" textLength="43.00" lengthAdjust="spacingAndGlyphs" dominant-baseline="central">CED. PROF.: 14850506</text>
<text x="1450.60" y="1036.20" font-size="8.6" fill="#111" font-weight="bold" text-anchor="middle" textLength="96.30" lengthAdjust="spacingAndGlyphs" dominant-baseline="central">WWW.INESME.COM.MX</text>
<rect x="1523.00" y="962.50" width="68.50" height="88.50" fill="#111" stroke="none" stroke-width="1" rx="2.5"/>
<path d="M1526,965.2 H1588.6 V1033.4 H1561.5 L1557.2,1029.6 L1553,1033.4 H1526 Z" fill="#fff"/>
<text x="1557.20" y="1042.60" font-size="4.6" fill="#eee" text-anchor="middle" textLength="53.00" lengthAdjust="spacingAndGlyphs" dominant-baseline="central">WWW.INESME.COM.MX</text>
<path d="M1532.40,970.40h12.12v1.78h-12.12zM1546.25,970.40h10.39v1.78h-10.39zM1558.37,970.40h3.46v1.78h-3.46zM1565.29,970.40h1.73v1.78h-1.73zM1570.48,970.40h12.12v1.78h-12.12zM1532.40,972.13h1.73v1.78h-1.73zM1542.79,972.13h1.73v1.78h-1.73zM1553.17,972.13h12.12v1.78h-12.12zM1567.02,972.13h1.73v1.78h-1.73zM1570.48,972.13h1.73v1.78h-1.73zM1580.87,972.13h1.73v1.78h-1.73zM1532.40,973.86h1.73v1.78h-1.73zM1535.86,973.86h5.19v1.78h-5.19zM1542.79,973.86h1.73v1.78h-1.73zM1546.25,973.86h8.66v1.78h-8.66zM1558.37,973.86h1.73v1.78h-1.73zM1561.83,973.86h1.73v1.78h-1.73zM1565.29,973.86h3.46v1.78h-3.46zM1570.48,973.86h1.73v1.78h-1.73zM1573.94,973.86h5.19v1.78h-5.19zM1580.87,973.86h1.73v1.78h-1.73zM1532.40,975.59h1.73v1.78h-1.73zM1535.86,975.59h5.19v1.78h-5.19zM1542.79,975.59h1.73v1.78h-1.73zM1546.25,975.59h1.73v1.78h-1.73zM1549.71,975.59h1.73v1.78h-1.73zM1554.90,975.59h1.73v1.78h-1.73zM1560.10,975.59h3.46v1.78h-3.46zM1565.29,975.59h3.46v1.78h-3.46zM1570.48,975.59h1.73v1.78h-1.73zM1573.94,975.59h5.19v1.78h-5.19zM1580.87,975.59h1.73v1.78h-1.73zM1532.40,977.32h1.73v1.78h-1.73zM1535.86,977.32h5.19v1.78h-5.19zM1542.79,977.32h1.73v1.78h-1.73zM1546.25,977.32h5.19v1.78h-5.19zM1556.63,977.32h3.46v1.78h-3.46zM1563.56,977.32h5.19v1.78h-5.19zM1570.48,977.32h1.73v1.78h-1.73zM1573.94,977.32h5.19v1.78h-5.19zM1580.87,977.32h1.73v1.78h-1.73zM1532.40,979.06h1.73v1.78h-1.73zM1542.79,979.06h1.73v1.78h-1.73zM1546.25,979.06h6.92v1.78h-6.92zM1554.90,979.06h5.19v1.78h-5.19zM1561.83,979.06h1.73v1.78h-1.73zM1567.02,979.06h1.73v1.78h-1.73zM1570.48,979.06h1.73v1.78h-1.73zM1580.87,979.06h1.73v1.78h-1.73zM1532.40,980.79h12.12v1.78h-12.12zM1546.25,980.79h1.73v1.78h-1.73zM1549.71,980.79h1.73v1.78h-1.73zM1553.17,980.79h1.73v1.78h-1.73zM1556.63,980.79h1.73v1.78h-1.73zM1560.10,980.79h1.73v1.78h-1.73zM1563.56,980.79h1.73v1.78h-1.73zM1567.02,980.79h1.73v1.78h-1.73zM1570.48,980.79h12.12v1.78h-12.12zM1547.98,982.52h3.46v1.78h-3.46zM1554.90,982.52h1.73v1.78h-1.73zM1558.37,982.52h3.46v1.78h-3.46zM1565.29,982.52h1.73v1.78h-1.73zM1535.86,984.25h3.46v1.78h-3.46zM1541.06,984.25h3.46v1.78h-3.46zM1546.25,984.25h1.73v1.78h-1.73zM1549.71,984.25h1.73v1.78h-1.73zM1553.17,984.25h1.73v1.78h-1.73zM1556.63,984.25h3.46v1.78h-3.46zM1561.83,984.25h3.46v1.78h-3.46zM1567.02,984.25h3.46v1.78h-3.46zM1573.94,984.25h5.19v1.78h-5.19zM1534.13,985.98h3.46v1.78h-3.46zM1546.25,985.98h1.73v1.78h-1.73zM1549.71,985.98h1.73v1.78h-1.73zM1554.90,985.98h8.66v1.78h-8.66zM1567.02,985.98h1.73v1.78h-1.73zM1570.48,985.98h3.46v1.78h-3.46zM1577.41,985.98h5.19v1.78h-5.19zM1532.40,987.71h1.73v1.78h-1.73zM1537.59,987.71h1.73v1.78h-1.73zM1541.06,987.71h6.92v1.78h-6.92zM1551.44,987.71h1.73v1.78h-1.73zM1556.63,987.71h5.19v1.78h-5.19zM1568.75,987.71h5.19v1.78h-5.19zM1577.41,987.71h1.73v1.78h-1.73zM1580.87,987.71h1.73v1.78h-1.73zM1541.06,989.44h1.73v1.78h-1.73zM1544.52,989.44h1.73v1.78h-1.73zM1553.17,989.44h1.73v1.78h-1.73zM1556.63,989.44h1.73v1.78h-1.73zM1561.83,989.44h1.73v1.78h-1.73zM1565.29,989.44h3.46v1.78h-3.46zM1570.48,989.44h6.92v1.78h-6.92zM1580.87,989.44h1.73v1.78h-1.73zM1534.13,991.17h1.73v1.78h-1.73zM1537.59,991.17h1.73v1.78h-1.73zM1541.06,991.17h5.19v1.78h-5.19zM1547.98,991.17h5.19v1.78h-5.19zM1554.90,991.17h1.73v1.78h-1.73zM1558.37,991.17h3.46v1.78h-3.46zM1563.56,991.17h1.73v1.78h-1.73zM1567.02,991.17h1.73v1.78h-1.73zM1570.48,991.17h1.73v1.78h-1.73zM1577.41,991.17h3.46v1.78h-3.46zM1532.40,992.90h3.46v1.78h-3.46zM1539.32,992.90h3.46v1.78h-3.46zM1544.52,992.90h6.92v1.78h-6.92zM1558.37,992.90h8.66v1.78h-8.66zM1570.48,992.90h6.92v1.78h-6.92zM1580.87,992.90h1.73v1.78h-1.73zM1532.40,994.63h3.46v1.78h-3.46zM1537.59,994.63h1.73v1.78h-1.73zM1542.79,994.63h10.39v1.78h-10.39zM1554.90,994.63h3.46v1.78h-3.46zM1560.10,994.63h1.73v1.78h-1.73zM1563.56,994.63h3.46v1.78h-3.46zM1568.75,994.63h1.73v1.78h-1.73zM1573.94,994.63h5.19v1.78h-5.19zM1580.87,994.63h1.73v1.78h-1.73zM1532.40,996.37h3.46v1.78h-3.46zM1537.59,996.37h1.73v1.78h-1.73zM1553.17,996.37h1.73v1.78h-1.73zM1556.63,996.37h1.73v1.78h-1.73zM1561.83,996.37h5.19v1.78h-5.19zM1570.48,996.37h1.73v1.78h-1.73zM1573.94,996.37h8.66v1.78h-8.66zM1532.40,998.10h5.19v1.78h-5.19zM1541.06,998.10h10.39v1.78h-10.39zM1560.10,998.10h5.19v1.78h-5.19zM1570.48,998.10h1.73v1.78h-1.73zM1573.94,998.10h1.73v1.78h-1.73zM1577.41,998.10h5.19v1.78h-5.19zM1532.40,999.83h3.46v1.78h-3.46zM1537.59,999.83h5.19v1.78h-5.19zM1546.25,999.83h3.46v1.78h-3.46zM1551.44,999.83h1.73v1.78h-1.73zM1554.90,999.83h10.39v1.78h-10.39zM1567.02,999.83h1.73v1.78h-1.73zM1572.21,999.83h6.92v1.78h-6.92zM1580.87,999.83h1.73v1.78h-1.73zM1541.06,1001.56h6.92v1.78h-6.92zM1551.44,1001.56h1.73v1.78h-1.73zM1556.63,1001.56h1.73v1.78h-1.73zM1561.83,1001.56h1.73v1.78h-1.73zM1567.02,1001.56h5.19v1.78h-5.19zM1575.68,1001.56h1.73v1.78h-1.73zM1579.14,1001.56h1.73v1.78h-1.73zM1534.13,1003.29h1.73v1.78h-1.73zM1541.06,1003.29h1.73v1.78h-1.73zM1546.25,1003.29h8.66v1.78h-8.66zM1558.37,1003.29h1.73v1.78h-1.73zM1567.02,1003.29h1.73v1.78h-1.73zM1572.21,1003.29h1.73v1.78h-1.73zM1575.68,1003.29h5.19v1.78h-5.19zM1532.40,1005.02h1.73v1.78h-1.73zM1537.59,1005.02h1.73v1.78h-1.73zM1541.06,1005.02h3.46v1.78h-3.46zM1546.25,1005.02h3.46v1.78h-3.46zM1551.44,1005.02h3.46v1.78h-3.46zM1556.63,1005.02h1.73v1.78h-1.73zM1561.83,1005.02h3.46v1.78h-3.46zM1567.02,1005.02h8.66v1.78h-8.66zM1577.41,1005.02h1.73v1.78h-1.73zM1580.87,1005.02h1.73v1.78h-1.73zM1546.25,1006.75h1.73v1.78h-1.73zM1549.71,1006.75h10.39v1.78h-10.39zM1561.83,1006.75h6.92v1.78h-6.92zM1573.94,1006.75h8.66v1.78h-8.66zM1532.40,1008.48h12.12v1.78h-12.12zM1549.71,1008.48h6.92v1.78h-6.92zM1558.37,1008.48h1.73v1.78h-1.73zM1561.83,1008.48h3.46v1.78h-3.46zM1567.02,1008.48h1.73v1.78h-1.73zM1570.48,1008.48h1.73v1.78h-1.73zM1573.94,1008.48h3.46v1.78h-3.46zM1532.40,1010.21h1.73v1.78h-1.73zM1542.79,1010.21h1.73v1.78h-1.73zM1551.44,1010.21h3.46v1.78h-3.46zM1556.63,1010.21h8.66v1.78h-8.66zM1567.02,1010.21h1.73v1.78h-1.73zM1573.94,1010.21h1.73v1.78h-1.73zM1532.40,1011.94h1.73v1.78h-1.73zM1535.86,1011.94h5.19v1.78h-5.19zM1542.79,1011.94h1.73v1.78h-1.73zM1546.25,1011.94h3.46v1.78h-3.46zM1553.17,1011.94h3.46v1.78h-3.46zM1561.83,1011.94h13.85v1.78h-13.85zM1532.40,1013.68h1.73v1.78h-1.73zM1535.86,1013.68h5.19v1.78h-5.19zM1542.79,1013.68h1.73v1.78h-1.73zM1546.25,1013.68h1.73v1.78h-1.73zM1551.44,1013.68h6.92v1.78h-6.92zM1561.83,1013.68h1.73v1.78h-1.73zM1565.29,1013.68h1.73v1.78h-1.73zM1570.48,1013.68h6.92v1.78h-6.92zM1579.14,1013.68h3.46v1.78h-3.46zM1532.40,1015.41h1.73v1.78h-1.73zM1535.86,1015.41h5.19v1.78h-5.19zM1542.79,1015.41h1.73v1.78h-1.73zM1547.98,1015.41h3.46v1.78h-3.46zM1553.17,1015.41h1.73v1.78h-1.73zM1556.63,1015.41h1.73v1.78h-1.73zM1561.83,1015.41h8.66v1.78h-8.66zM1573.94,1015.41h3.46v1.78h-3.46zM1579.14,1015.41h1.73v1.78h-1.73zM1532.40,1017.14h1.73v1.78h-1.73zM1542.79,1017.14h1.73v1.78h-1.73zM1546.25,1017.14h1.73v1.78h-1.73zM1551.44,1017.14h1.73v1.78h-1.73zM1554.90,1017.14h1.73v1.78h-1.73zM1558.37,1017.14h1.73v1.78h-1.73zM1561.83,1017.14h3.46v1.78h-3.46zM1568.75,1017.14h13.85v1.78h-13.85zM1532.40,1018.87h12.12v1.78h-12.12zM1547.98,1018.87h1.73v1.78h-1.73zM1554.90,1018.87h5.19v1.78h-5.19zM1565.29,1018.87h5.19v1.78h-5.19zM1572.21,1018.87h1.73v1.78h-1.73zM1575.68,1018.87h3.46v1.78h-3.46zM1580.87,1018.87h1.73v1.78h-1.73z" fill="#111"/>
<polygon points="121.00,137.60 291.40,39.10 296.30,41.00 296.30,120.00 168.60,200.00 120.00,230.00" fill="url(#gBW)" stroke="none" stroke-width="1"/>
<polygon points="168.60,240.80 294.50,169.80 294.50,189.20 168.60,258.40" fill="url(#gBW2)" stroke="none" stroke-width="1"/>
<rect x="202.60" y="215.00" width="9.30" height="22.00" fill="#8d8d8d" stroke="none" stroke-width="1"/>
<polygon points="291.40,37.50 296.30,34.50 296.30,95.00 291.40,98.00" fill="#a3a3a3" stroke="#777" stroke-width="0.4"/>
<polygon points="109.10,136.20 291.40,30.90 296.30,33.70 291.40,38.80 121.10,137.60 115.50,139.60" fill="#f6f6f6" stroke="#6b6b6b" stroke-width="0.5"/>
<polygon points="121.10,137.60 291.40,38.80 291.40,46.10 127.40,141.20" fill="#b9b9b9" stroke="none" stroke-width="1"/>
<polygon points="201.30,91.10 212.60,84.50 212.60,170.00 201.30,176.00" fill="url(#gCOL)" stroke="none" stroke-width="1"/>
<line x1="201.30" y1="91.10" x2="201.30" y2="176.00" stroke="#777" stroke-width="0.4"/>
<line x1="212.60" y1="84.50" x2="212.60" y2="170.00" stroke="#777" stroke-width="0.4"/>
<polygon points="197.80,88.60 208.50,82.40 212.60,84.50 201.30,91.10" fill="#f6f6f6" stroke="#6b6b6b" stroke-width="0.3"/>
<polygon points="119.70,142.00 152.60,161.00 152.60,312.00 119.70,292.00" fill="url(#gDK)" stroke="none" stroke-width="1"/>
<polygon points="119.70,143.00 152.60,161.40 152.60,168.20 119.70,150.20" fill="#5e6166" stroke="none" stroke-width="1"/>
<polygon points="109.30,136.20 121.10,137.60 127.40,141.20 158.50,158.40 152.60,161.40 119.70,143.00 109.30,137.40" fill="#f4f4f4" stroke="#6b6b6b" stroke-width="0.4"/>
<polygon points="109.30,137.40 119.70,143.00 119.70,203.00 109.30,197.80" fill="#686c72" stroke="#555" stroke-width="0.4"/>
<polygon points="294.50,169.80 329.60,150.00 329.60,207.80 294.50,189.20" fill="#2f3640" stroke="none" stroke-width="1"/>
<polygon points="329.60,150.00 341.00,143.50 341.00,214.00 329.60,207.80" fill="#454b54" stroke="none" stroke-width="1"/>
<polygon points="168.60,258.40 294.50,189.20 329.60,207.80 357.00,223.20 231.50,294.50 214.00,284.20 168.60,309.50" fill="url(#gFL)" stroke="#888" stroke-width="0.4"/>
<polygon points="231.50,294.50 357.00,223.20 357.00,229.80 231.50,301.00" fill="url(#vb)" stroke="#555" stroke-width="0.4"/>
<polygon points="168.60,309.50 214.00,284.20 231.50,294.50 231.50,301.00 229.50,298.60 181.00,325.50 168.60,318.00" fill="#e9e9e9" stroke="#888" stroke-width="0.4"/>
<polygon points="181.00,325.50 229.50,298.60 229.50,304.50 181.00,331.50" fill="url(#vb)" stroke="#555" stroke-width="0.4"/>
<rect x="228.40" y="295.50" width="5.20" height="13.50" fill="#d6d6d6" stroke="#888" stroke-width="0.4"/>
<rect x="352.50" y="224.00" width="5.00" height="13.00" fill="#d6d6d6" stroke="#888" stroke-width="0.4"/>
<polygon points="345.90,158.10 408.40,193.50 408.40,194.50 360.60,221.60 345.90,213.00" fill="url(#gFL)" stroke="#888" stroke-width="0.4"/>
<line x1="386.40" y1="183.40" x2="345.90" y2="207.00" stroke="#999" stroke-width="0.4"/>
<polygon points="360.60,221.60 408.40,194.50 408.40,201.50 360.60,228.60" fill="url(#vb)" stroke="#555" stroke-width="0.4"/>
<rect x="405.50" y="193.50" width="3.50" height="10.00" fill="#d0d0d0" stroke="#888" stroke-width="0.4"/>
<polygon points="345.00,74.50 387.30,98.10 345.00,121.80" fill="#e2e2e2" stroke="#888" stroke-width="0.4"/>
<polygon points="345.00,121.80 387.30,98.10 387.30,104.00 345.00,127.70" fill="#f0f0f0" stroke="#888" stroke-width="0.4"/>
<polygon points="152.60,161.40 157.80,164.20 163.00,167.40 163.00,316.50 152.60,311.00" fill="#63666b" stroke="#555" stroke-width="0.4"/>
<polygon points="157.80,164.20 163.60,160.90 335.50,61.60 339.90,59.80 344.40,62.10 344.40,214.00 339.90,214.00 339.90,142.70 168.10,240.70 168.10,316.50 163.00,316.50 163.00,167.40" fill="#fafafa" stroke="#6b6b6b" stroke-width="0.5"/>
<polygon points="152.60,161.40 158.50,158.40 163.60,160.90 157.80,164.20" fill="#f4f4f4" stroke="#6b6b6b" stroke-width="0.4"/>
<polygon points="168.10,164.60 339.90,66.70 339.90,74.30 168.10,171.90" fill="#e4e4e4" stroke="none" stroke-width="1"/>
<line x1="163.00" y1="167.40" x2="339.90" y2="64.30" stroke="#555" stroke-width="0.45"/>
<line x1="168.10" y1="164.60" x2="339.90" y2="66.70" stroke="#666" stroke-width="0.4"/>
<polygon points="168.10,171.90 339.90,74.30 339.90,125.80 168.10,224.40" fill="#87b2e5" stroke="none" stroke-width="1"/>
<polygon points="168.10,224.40 339.90,125.80 339.90,142.70 168.10,240.70" fill="#e6e6e6" stroke="#888" stroke-width="0.3"/>
<line x1="168.10" y1="164.60" x2="168.10" y2="316.50" stroke="#888" stroke-width="0.4"/>
<line x1="339.90" y1="64.30" x2="339.90" y2="214.00" stroke="#888" stroke-width="0.4"/>
<line x1="163.00" y1="167.40" x2="163.00" y2="316.50" stroke="#555" stroke-width="0.4"/>
<polygon points="39.60,332.40 114.50,291.40 152.80,311.90 163.50,317.30 177.80,326.20 103.80,369.00 39.60,337.00" fill="url(#gFL2)" stroke="#888" stroke-width="0.4"/>
<polygon points="103.80,369.00 177.80,326.20 177.80,333.00 103.80,376.00" fill="url(#vb)" stroke="#555" stroke-width="0.4"/>
<polygon points="39.60,337.00 103.80,369.00 103.80,377.00 39.60,344.50" fill="#3a3a3a" stroke="#333" stroke-width="0.4"/>
<line x1="41.00" y1="339.80" x2="103.80" y2="372.00" stroke="#cfcfcf" stroke-width="0.6"/>
<line x1="41.00" y1="342.50" x2="103.80" y2="374.80" stroke="#aaa" stroke-width="0.5"/>
<rect x="176.00" y="324.00" width="4.50" height="14.00" fill="#d6d6d6" stroke="#888" stroke-width="0.4"/>
<polygon points="114.50,256.60 120.70,257.50 152.80,238.80 152.80,311.90 114.50,291.40" fill="#363d48" stroke="none" stroke-width="1"/>
<polygon points="77.00,233.50 114.50,256.60 114.50,291.40 77.00,310.10" fill="url(#gLB)" stroke="none" stroke-width="1"/>
<polygon points="67.20,222.00 72.60,225.00 72.60,272.70 67.20,270.00" fill="#5b5f65" stroke="none" stroke-width="1"/>
<polygon points="72.60,225.00 77.00,228.00 77.00,312.80 72.60,312.80" fill="#eeeeee" stroke="#999" stroke-width="0.3"/>
<polygon points="67.20,221.90 109.10,197.80 162.60,228.10 120.70,252.20" fill="url(#gSL)" stroke="#6b6b6b" stroke-width="0.5"/>
<polygon points="72.70,224.50 120.70,252.20 120.70,257.80 72.70,230.00" fill="#626262" stroke="#6b6b6b" stroke-width="0.4"/>
<polygon points="120.70,252.20 162.60,228.10 162.60,233.70 120.70,257.80" fill="#f3f3f3" stroke="#6b6b6b" stroke-width="0.4"/>
<line x1="72.60" y1="224.50" x2="112.50" y2="201.50" stroke="#aaa" stroke-width="0.5"/>
<polygon points="34.30,289.60 67.20,271.80 72.60,274.50 72.60,280.70 39.60,298.50 34.30,295.50" fill="#efefef" stroke="#6b6b6b" stroke-width="0.4"/>
<polygon points="39.60,298.50 72.60,280.70 72.60,312.80 39.60,332.40" fill="url(#gLB)" stroke="none" stroke-width="1"/>
<polygon points="34.30,289.60 39.60,293.00 39.60,345.00 34.30,342.00" fill="#3b4049" stroke="none" stroke-width="1"/>
<line x1="96.60" y1="226.70" x2="120.10" y2="226.70" stroke="#333" stroke-width="0.5"/>
<circle cx="121.60" cy="226.70" r="3.00" fill="#fff" stroke="#111" stroke-width="0.6"/>
<path d="M121.6,226.7 L121.6,223.7 A3,3 0 0 0 118.6,226.7 Z M121.6,226.7 L121.6,229.7 A3,3 0 0 0 124.6,226.7 Z" fill="#111"/>
<text x="104.50" y="221.50" font-size="5.3" fill="#222" dominant-baseline="central">8.32</text>
<line x1="80.60" y1="339.20" x2="103.20" y2="339.20" stroke="#333" stroke-width="0.5"/>
<circle cx="104.70" cy="339.20" r="3.00" fill="#fff" stroke="#111" stroke-width="0.6"/>
<path d="M104.7,339.2 L104.7,336.2 A3,3 0 0 0 101.7,339.2 Z M104.7,339.2 L104.7,342.2 A3,3 0 0 0 107.7,339.2 Z" fill="#111"/>
<text x="107.00" y="341.30" font-size="5.3" fill="#222" dominant-baseline="central">6.12</text>
<line x1="217.10" y1="250.70" x2="240.40" y2="250.70" stroke="#333" stroke-width="0.5"/>
<circle cx="241.90" cy="250.70" r="3.00" fill="#fff" stroke="#111" stroke-width="0.6"/>
<path d="M241.9,250.7 L241.9,247.7 A3,3 0 0 0 238.9,250.7 Z M241.9,250.7 L241.9,253.7 A3,3 0 0 0 244.9,250.7 Z" fill="#111"/>
<text x="244.50" y="252.70" font-size="5.3" fill="#222" dominant-baseline="central">6.12</text>
<line x1="135.50" y1="462.00" x2="135.50" y2="1008.00" stroke="#c8c8c8" stroke-width="0.9" stroke-dasharray="12 3.5 3 3.5"/>
<line x1="215.10" y1="462.00" x2="215.10" y2="1008.00" stroke="#c8c8c8" stroke-width="0.9" stroke-dasharray="12 3.5 3 3.5"/>
<line x1="62.00" y1="596.20" x2="294.00" y2="596.20" stroke="#c8c8c8" stroke-width="0.9" stroke-dasharray="12 3.5 3 3.5"/>
<line x1="62.00" y1="887.70" x2="294.00" y2="887.70" stroke="#c8c8c8" stroke-width="0.9" stroke-dasharray="12 3.5 3 3.5"/>
<line x1="119.50" y1="447.80" x2="151.50" y2="447.80" stroke="#aaa" stroke-width="0.6"/>
<line x1="135.50" y1="431.80" x2="135.50" y2="463.80" stroke="#aaa" stroke-width="0.6"/>
<circle cx="135.50" cy="447.80" r="11.60" fill="#fff" stroke="#888" stroke-width="0.6"/>
<path d="M125.75,447.80 A9.75,9.75 0 0 1 135.50,438.05" fill="none" stroke="#757575" stroke-width="3.70"/>
<path d="M145.25,447.80 A9.75,9.75 0 0 1 135.50,457.55" fill="none" stroke="#757575" stroke-width="3.70"/>
<circle cx="135.50" cy="447.80" r="7.90" fill="#fff" stroke="#333" stroke-width="0.6"/>
<text x="135.50" y="448.10" font-size="9" fill="#111" text-anchor="middle" dominant-baseline="central">1</text>
<line x1="199.10" y1="447.80" x2="231.10" y2="447.80" stroke="#aaa" stroke-width="0.6"/>
<line x1="215.10" y1="431.80" x2="215.10" y2="463.80" stroke="#aaa" stroke-width="0.6"/>
<circle cx="215.10" cy="447.80" r="11.60" fill="#fff" stroke="#888" stroke-width="0.6"/>
<path d="M205.35,447.80 A9.75,9.75 0 0 1 215.10,438.05" fill="none" stroke="#757575" stroke-width="3.70"/>
<path d="M224.85,447.80 A9.75,9.75 0 0 1 215.10,457.55" fill="none" stroke="#757575" stroke-width="3.70"/>
<circle cx="215.10" cy="447.80" r="7.90" fill="#fff" stroke="#333" stroke-width="0.6"/>
<text x="215.10" y="448.10" font-size="9" fill="#111" text-anchor="middle" dominant-baseline="central">2</text>
<line x1="31.10" y1="596.20" x2="63.10" y2="596.20" stroke="#aaa" stroke-width="0.6"/>
<line x1="47.10" y1="580.20" x2="47.10" y2="612.20" stroke="#aaa" stroke-width="0.6"/>
<circle cx="47.10" cy="596.20" r="11.60" fill="#fff" stroke="#888" stroke-width="0.6"/>
<path d="M37.35,596.20 A9.75,9.75 0 0 1 47.10,586.45" fill="none" stroke="#757575" stroke-width="3.70"/>
<path d="M56.85,596.20 A9.75,9.75 0 0 1 47.10,605.95" fill="none" stroke="#757575" stroke-width="3.70"/>
<circle cx="47.10" cy="596.20" r="7.90" fill="#fff" stroke="#333" stroke-width="0.6"/>
<text x="47.10" y="596.50" font-size="9" fill="#111" text-anchor="middle" dominant-baseline="central">C</text>
<line x1="31.30" y1="887.70" x2="63.30" y2="887.70" stroke="#aaa" stroke-width="0.6"/>
<line x1="47.30" y1="871.70" x2="47.30" y2="903.70" stroke="#aaa" stroke-width="0.6"/>
<circle cx="47.30" cy="887.70" r="11.60" fill="#fff" stroke="#888" stroke-width="0.6"/>
<path d="M37.55,887.70 A9.75,9.75 0 0 1 47.30,877.95" fill="none" stroke="#757575" stroke-width="3.70"/>
<path d="M57.05,887.70 A9.75,9.75 0 0 1 47.30,897.45" fill="none" stroke="#757575" stroke-width="3.70"/>
<circle cx="47.30" cy="887.70" r="7.90" fill="#fff" stroke="#333" stroke-width="0.6"/>
<text x="47.30" y="888.00" font-size="9" fill="#111" text-anchor="middle" dominant-baseline="central">E</text>
<rect x="130.50" y="521.80" width="89.20" height="439.90" fill="url(#speck)" stroke="#999" stroke-width="0.8"/>
<rect x="130.50" y="531.20" width="9.40" height="422.00" fill="url(#gh)" stroke="#999" stroke-width="0.5"/>
<rect x="210.40" y="601.00" width="9.30" height="282.50" fill="url(#gh)" stroke="#999" stroke-width="0.5"/>
<rect x="148.60" y="591.60" width="52.80" height="9.40" fill="url(#gh)" stroke="#999" stroke-width="0.5"/>
<rect x="148.60" y="883.50" width="52.90" height="9.00" fill="url(#gh)" stroke="#999" stroke-width="0.5"/>
<rect x="130.50" y="521.80" width="9.20" height="9.40" fill="url(#xh)" stroke="#111" stroke-width="1.5"/>
<rect x="130.60" y="953.20" width="9.50" height="8.50" fill="url(#xh)" stroke="#111" stroke-width="1.5"/>
<rect x="130.50" y="591.60" width="9.20" height="9.40" fill="#fff" stroke="#111" stroke-width="1.5"/>
<rect x="139.70" y="591.60" width="8.90" height="9.40" fill="url(#xh)" stroke="#111" stroke-width="1.5"/>
<rect x="201.40" y="591.60" width="9.20" height="9.40" fill="url(#xh)" stroke="#111" stroke-width="1.5"/>
<rect x="210.60" y="591.60" width="9.00" height="9.40" fill="#fff" stroke="#111" stroke-width="1.5"/>
<rect x="130.60" y="731.00" width="9.50" height="17.40" fill="#fff" stroke="#111" stroke-width="1.5"/>
<rect x="130.60" y="883.50" width="18.00" height="9.00" fill="#fff" stroke="#111" stroke-width="1.5"/>
<rect x="201.50" y="883.50" width="18.30" height="9.00" fill="#fff" stroke="#111" stroke-width="1.5"/>
<text x="135.30" y="561.30" font-size="6.3" fill="#222" font-weight="bold" text-anchor="middle" textLength="19.00" lengthAdjust="spacingAndGlyphs" font-style="italic" dominant-baseline="central" transform="rotate(-90 135.30 561.30)">TR-01</text>
<text x="135.30" y="665.00" font-size="6.3" fill="#222" font-weight="bold" text-anchor="middle" textLength="19.00" lengthAdjust="spacingAndGlyphs" font-style="italic" dominant-baseline="central" transform="rotate(-90 135.30 665.00)">TR-01</text>
<text x="135.30" y="815.40" font-size="6.3" fill="#222" font-weight="bold" text-anchor="middle" textLength="19.00" lengthAdjust="spacingAndGlyphs" font-style="italic" dominant-baseline="central" transform="rotate(-90 135.30 815.40)">TR-01</text>
<text x="135.30" y="923.70" font-size="6.3" fill="#222" font-weight="bold" text-anchor="middle" textLength="19.00" lengthAdjust="spacingAndGlyphs" font-style="italic" dominant-baseline="central" transform="rotate(-90 135.30 923.70)">TR-01</text>
<text x="174.50" y="596.50" font-size="6.3" fill="#222" font-weight="bold" text-anchor="middle" textLength="19.00" lengthAdjust="spacingAndGlyphs" font-style="italic" dominant-baseline="central">TR-01</text>
<text x="174.80" y="887.90" font-size="6.3" fill="#222" font-weight="bold" text-anchor="middle" textLength="19.00" lengthAdjust="spacingAndGlyphs" font-style="italic" dominant-baseline="central">TR-01</text>
<text x="215.30" y="742.20" font-size="6.3" fill="#222" font-weight="bold" text-anchor="middle" textLength="19.00" lengthAdjust="spacingAndGlyphs" font-style="italic" dominant-baseline="central" transform="rotate(-90 215.30 742.20)">TR-03</text>
<text x="179.10" y="560.40" font-size="5.6" fill="#222" font-weight="bold" text-anchor="middle" textLength="17.50" lengthAdjust="spacingAndGlyphs" dominant-baseline="central">LM-02</text>
<text x="179.10" y="566.50" font-size="4.2" fill="#777" text-anchor="middle" textLength="21.00" lengthAdjust="spacingAndGlyphs" dominant-baseline="central">H = 15 CM</text>
<text x="174.80" y="745.00" font-size="5.6" fill="#222" font-weight="bold" text-anchor="middle" textLength="17.50" lengthAdjust="spacingAndGlyphs" dominant-baseline="central">LM-02</text>
<text x="174.80" y="751.10" font-size="4.2" fill="#777" text-anchor="middle" textLength="21.00" lengthAdjust="spacingAndGlyphs" dominant-baseline="central">H = 15 CM</text>
<text x="179.00" y="930.70" font-size="5.6" fill="#222" font-weight="bold" text-anchor="middle" textLength="17.50" lengthAdjust="spacingAndGlyphs" dominant-baseline="central">LM-02</text>
<text x="179.00" y="936.80" font-size="4.2" fill="#777" text-anchor="middle" textLength="21.00" lengthAdjust="spacingAndGlyphs" dominant-baseline="central">H = 15 CM</text>
<text x="120.10" y="526.20" font-size="4.4" fill="#2a5aa8" text-anchor="middle" textLength="11.00" lengthAdjust="spacingAndGlyphs" dominant-baseline="central" transform="rotate(-90 120.10 526.20)">K-01</text>
<text x="126.00" y="526.20" font-size="4.4" fill="#666" text-anchor="middle" textLength="28.00" lengthAdjust="spacingAndGlyphs" dominant-baseline="central" transform="rotate(-90 126.00 526.20)">(15 X 15) CM</text>
<text x="120.10" y="596.20" font-size="4.4" fill="#2a5aa8" text-anchor="middle" textLength="11.00" lengthAdjust="spacingAndGlyphs" dominant-baseline="central" transform="rotate(-90 120.10 596.20)">K-02</text>
<text x="126.00" y="596.20" font-size="4.4" fill="#666" text-anchor="middle" textLength="28.00" lengthAdjust="spacingAndGlyphs" dominant-baseline="central" transform="rotate(-90 126.00 596.20)">(15 X 30) CM</text>
<text x="120.10" y="739.70" font-size="4.4" fill="#2a5aa8" text-anchor="middle" textLength="11.00" lengthAdjust="spacingAndGlyphs" dominant-baseline="central" transform="rotate(-90 120.10 739.70)">K-02</text>
<text x="126.00" y="739.70" font-size="4.4" fill="#666" text-anchor="middle" textLength="28.00" lengthAdjust="spacingAndGlyphs" dominant-baseline="central" transform="rotate(-90 126.00 739.70)">(15 X 30) CM</text>
<text x="120.10" y="887.70" font-size="4.4" fill="#2a5aa8" text-anchor="middle" textLength="11.00" lengthAdjust="spacingAndGlyphs" dominant-baseline="central" transform="rotate(-90 120.10 887.70)">K-02</text>
<text x="126.00" y="887.70" font-size="4.4" fill="#666" text-anchor="middle" textLength="28.00" lengthAdjust="spacingAndGlyphs" dominant-baseline="central" transform="rotate(-90 126.00 887.70)">(15 X 30) CM</text>
<text x="120.10" y="957.50" font-size="4.4" fill="#2a5aa8" text-anchor="middle" textLength="11.00" lengthAdjust="spacingAndGlyphs" dominant-baseline="central" transform="rotate(-90 120.10 957.50)">K-01</text>
<text x="126.00" y="957.50" font-size="4.4" fill="#666" text-anchor="middle" textLength="28.00" lengthAdjust="spacingAndGlyphs" dominant-baseline="central" transform="rotate(-90 126.00 957.50)">(15 X 15) CM</text>
<text x="228.50" y="596.20" font-size="4.4" fill="#2a5aa8" text-anchor="middle" textLength="11.00" lengthAdjust="spacingAndGlyphs" dominant-baseline="central" transform="rotate(-90 228.50 596.20)">K-02</text>
<text x="234.40" y="596.20" font-size="4.4" fill="#666" text-anchor="middle" textLength="28.00" lengthAdjust="spacingAndGlyphs" dominant-baseline="central" transform="rotate(-90 234.40 596.20)">(15 X 30) CM</text>
<text x="228.60" y="887.70" font-size="4.4" fill="#2a5aa8" text-anchor="middle" textLength="11.00" lengthAdjust="spacingAndGlyphs" dominant-baseline="central" transform="rotate(-90 228.60 887.70)">K-02</text>
<text x="234.50" y="887.70" font-size="4.4" fill="#666" text-anchor="middle" textLength="28.00" lengthAdjust="spacingAndGlyphs" dominant-baseline="central" transform="rotate(-90 234.50 887.70)">(15 X 30) CM</text>
<line x1="93.60" y1="523.20" x2="93.60" y2="960.50" stroke="#888" stroke-width="0.7"/>
<line x1="90.60" y1="526.20" x2="96.60" y2="526.20" stroke="#bbb" stroke-width="0.5"/>
<line x1="90.40" y1="529.40" x2="96.80" y2="523.00" stroke="#444" stroke-width="0.8"/>
<line x1="90.60" y1="596.20" x2="96.60" y2="596.20" stroke="#bbb" stroke-width="0.5"/>
<line x1="90.40" y1="599.40" x2="96.80" y2="593.00" stroke="#444" stroke-width="0.8"/>
<line x1="90.60" y1="739.40" x2="96.60" y2="739.40" stroke="#bbb" stroke-width="0.5"/>
<line x1="90.40" y1="742.60" x2="96.80" y2="736.20" stroke="#444" stroke-width="0.8"/>
<line x1="90.60" y1="887.70" x2="96.60" y2="887.70" stroke="#bbb" stroke-width="0.5"/>
<line x1="90.40" y1="890.90" x2="96.80" y2="884.50" stroke="#444" stroke-width="0.8"/>
<line x1="90.60" y1="957.50" x2="96.60" y2="957.50" stroke="#bbb" stroke-width="0.5"/>
<line x1="90.40" y1="960.70" x2="96.80" y2="954.30" stroke="#444" stroke-width="0.8"/>
<text x="86.80" y="561.80" font-size="6.5" fill="#222" font-weight="bold" text-anchor="middle" dominant-baseline="central" transform="rotate(-90 86.80 561.80)">1.20</text>
<text x="86.80" y="667.50" font-size="6.5" fill="#222" font-weight="bold" text-anchor="middle" dominant-baseline="central" transform="rotate(-90 86.80 667.50)">2.46</text>
<text x="86.80" y="814.00" font-size="6.5" fill="#222" font-weight="bold" text-anchor="middle" dominant-baseline="central" transform="rotate(-90 86.80 814.00)">2.55</text>
<text x="86.80" y="922.30" font-size="6.5" fill="#222" font-weight="bold" text-anchor="middle" dominant-baseline="central" transform="rotate(-90 86.80 922.30)">1.20</text>
<line x1="133.50" y1="506.10" x2="217.10" y2="506.10" stroke="#888" stroke-width="0.7"/>
<line x1="135.50" y1="503.10" x2="135.50" y2="509.10" stroke="#bbb" stroke-width="0.5"/>
<line x1="132.30" y1="509.30" x2="138.70" y2="502.90" stroke="#444" stroke-width="0.8"/>
<line x1="215.10" y1="503.10" x2="215.10" y2="509.10" stroke="#bbb" stroke-width="0.5"/>
<line x1="211.90" y1="509.30" x2="218.30" y2="502.90" stroke="#444" stroke-width="0.8"/>
<text x="174.70" y="498.20" font-size="6.5" fill="#222" font-weight="bold" text-anchor="middle" dominant-baseline="central">1.37</text>
<line x1="48.70" y1="1033.20" x2="422.60" y2="1033.20" stroke="#a8a8a8" stroke-width="0.9"/>
<circle cx="37.50" cy="1033.50" r="11.30" fill="#fff" stroke="#999" stroke-width="0.7"/>
<text x="37.50" y="1034.10" font-size="12" fill="#111" font-weight="bold" text-anchor="middle" dominant-baseline="central">2</text>
<text x="55.70" y="1029.00" font-size="14.4" fill="#111" font-weight="bold" textLength="143.00" lengthAdjust="spacingAndGlyphs">Nivel tinacos = +8.32</text>
<text x="56.50" y="1041.20" font-size="9.6" fill="#333" dominant-baseline="central">1 : 30</text>
<line x1="49.00" y1="410.40" x2="422.30" y2="410.40" stroke="#a8a8a8" stroke-width="0.9"/>
<circle cx="37.30" cy="411.00" r="11.00" fill="#fff" stroke="#999" stroke-width="0.7"/>
<text x="37.30" y="411.60" font-size="12" fill="#111" font-weight="bold" text-anchor="middle" dominant-baseline="central">1</text>
<text x="55.70" y="405.70" font-size="14.4" fill="#111" font-weight="bold" textLength="192.00" lengthAdjust="spacingAndGlyphs">Isometría - Área de lavado.</text>
<line x1="466.30" y1="75.00" x2="984.30" y2="75.00" stroke="#bdbdbd" stroke-width="1.1" stroke-dasharray="27.6 8.4 11 8.4"/>
<line x1="466.30" y1="247.50" x2="984.30" y2="247.50" stroke="#bdbdbd" stroke-width="1.1" stroke-dasharray="27.6 8.4 11 8.4"/>
<line x1="466.30" y1="419.80" x2="984.30" y2="419.80" stroke="#bdbdbd" stroke-width="1.1" stroke-dasharray="27.6 8.4 11 8.4"/>
<line x1="883.80" y1="20.00" x2="883.80" y2="254.00" stroke="#c4c4c4" stroke-width="0.9" stroke-dasharray="14 4 3 4"/>
<line x1="867.80" y1="36.60" x2="899.80" y2="36.60" stroke="#aaa" stroke-width="0.6"/>
<line x1="883.80" y1="20.60" x2="883.80" y2="52.60" stroke="#aaa" stroke-width="0.6"/>
<circle cx="883.80" cy="36.60" r="11.25" fill="#fff" stroke="#888" stroke-width="0.6"/>
<path d="M874.52,36.60 A9.28,9.28 0 0 1 883.80,27.33" fill="none" stroke="#757575" stroke-width="3.95"/>
<path d="M893.07,36.60 A9.28,9.28 0 0 1 883.80,45.88" fill="none" stroke="#757575" stroke-width="3.95"/>
<circle cx="883.80" cy="36.60" r="7.30" fill="#fff" stroke="#333" stroke-width="0.6"/>
<text x="883.80" y="36.90" font-size="9" fill="#111" text-anchor="middle" dominant-baseline="central">A</text>
<rect x="495.30" y="419.80" width="435.90" height="52.90" fill="url(#pq3)" stroke="none" stroke-width="1"/>
<rect x="495.30" y="472.70" width="435.90" height="8.80" fill="url(#tf1)" stroke="#777" stroke-width="0.5"/>
<line x1="495.30" y1="472.70" x2="931.20" y2="472.70" stroke="#333" stroke-width="0.9"/>
<line x1="495.30" y1="414.50" x2="495.30" y2="487.00" stroke="#888" stroke-width="0.8"/>
<rect x="864.10" y="419.80" width="14.70" height="17.50" fill="#fff" stroke="none" stroke-width="1"/>
<polygon points="513.00,75.00 584.50,75.00 584.50,85.80 600.30,85.80 600.30,96.60 616.10,96.60 616.10,107.40 631.90,107.40 631.90,118.20 647.70,118.20 647.70,129.00 663.50,129.00 663.50,139.80 679.30,139.80 679.30,150.60 695.10,150.60 695.10,161.40 710.90,161.40 710.90,172.20 726.70,172.20 726.70,183.00 742.50,183.00 742.50,193.80 758.30,193.80 758.30,204.60 774.10,204.60 774.10,215.40 789.90,215.40 789.90,226.20 805.70,226.20 805.70,237.00 821.50,237.00 821.50,247.80 879.00,247.80 879.00,257.80 818.00,257.80 566.30,85.70 513.00,85.70" fill="url(#conc)" stroke="#555" stroke-width="0.7"/>
<rect x="504.00" y="75.00" width="9.00" height="14.70" fill="#7a7a7a" stroke="#555" stroke-width="0.5"/>
<rect x="879.30" y="270.70" width="8.80" height="149.10" fill="url(#bh)" stroke="#7a9cc0" stroke-width="0.6"/>
<rect x="878.80" y="247.60" width="9.70" height="23.10" fill="#fff" stroke="#111" stroke-width="1.8"/>
<rect x="881.40" y="250.40" width="4.50" height="17.50" fill="none" stroke="#444" stroke-width="0.8" rx="1"/>
<line x1="882.00" y1="267.30" x2="885.00" y2="263.70" stroke="#444" stroke-width="0.8"/>
<rect x="878.80" y="419.80" width="9.70" height="17.50" fill="#fff" stroke="#111" stroke-width="1.8"/>
<rect x="881.40" y="422.60" width="4.50" height="11.90" fill="none" stroke="#444" stroke-width="0.8" rx="1"/>
<line x1="882.00" y1="433.90" x2="885.00" y2="430.30" stroke="#444" stroke-width="0.8"/>
<rect x="864.10" y="437.30" width="24.40" height="35.40" fill="url(#stone)" stroke="#111" stroke-width="1.8"/>
<text x="876.30" y="455.00" font-size="9.5" fill="#555" text-anchor="middle" textLength="28.00" lengthAdjust="spacingAndGlyphs" dominant-baseline="central" transform="rotate(-90 876.30 455.00)">ZM-02</text>
<line x1="509.80" y1="65.50" x2="885.80" y2="65.50" stroke="#888" stroke-width="0.7"/>
<line x1="511.80" y1="62.50" x2="511.80" y2="68.50" stroke="#bbb" stroke-width="0.5"/>
<line x1="508.60" y1="68.70" x2="515.00" y2="62.30" stroke="#444" stroke-width="0.8"/>
<line x1="583.50" y1="62.50" x2="583.50" y2="68.50" stroke="#bbb" stroke-width="0.5"/>
<line x1="580.30" y1="68.70" x2="586.70" y2="62.30" stroke="#444" stroke-width="0.8"/>
<line x1="820.40" y1="62.50" x2="820.40" y2="68.50" stroke="#bbb" stroke-width="0.5"/>
<line x1="817.20" y1="68.70" x2="823.60" y2="62.30" stroke="#444" stroke-width="0.8"/>
<line x1="883.80" y1="62.50" x2="883.80" y2="68.50" stroke="#bbb" stroke-width="0.5"/>
<line x1="880.60" y1="68.70" x2="887.00" y2="62.30" stroke="#444" stroke-width="0.8"/>
<text x="548.30" y="57.60" font-size="6.5" fill="#222" font-weight="bold" text-anchor="middle" dominant-baseline="central">1.23</text>
<text x="702.00" y="57.60" font-size="6.5" fill="#222" font-weight="bold" text-anchor="middle" dominant-baseline="central">4.05</text>
<text x="852.40" y="57.60" font-size="6.5" fill="#222" font-weight="bold" text-anchor="middle" dominant-baseline="central">1.08</text>
<line x1="484.50" y1="72.00" x2="484.50" y2="250.50" stroke="#888" stroke-width="0.7"/>
<line x1="481.50" y1="75.00" x2="487.50" y2="75.00" stroke="#bbb" stroke-width="0.5"/>
<line x1="481.30" y1="78.20" x2="487.70" y2="71.80" stroke="#444" stroke-width="0.8"/>
<line x1="481.50" y1="247.50" x2="487.50" y2="247.50" stroke="#bbb" stroke-width="0.5"/>
<line x1="481.30" y1="250.70" x2="487.70" y2="244.30" stroke="#444" stroke-width="0.8"/>
<text x="478.00" y="166.00" font-size="6.5" fill="#222" font-weight="bold" text-anchor="middle" dominant-baseline="central" transform="rotate(-90 478.00 166.00)">3.14</text>
<line x1="728.50" y1="254.80" x2="728.50" y2="422.80" stroke="#888" stroke-width="0.7"/>
<line x1="725.50" y1="257.80" x2="731.50" y2="257.80" stroke="#bbb" stroke-width="0.5"/>
<line x1="725.30" y1="261.00" x2="731.70" y2="254.60" stroke="#444" stroke-width="0.8"/>
<line x1="725.50" y1="419.80" x2="731.50" y2="419.80" stroke="#bbb" stroke-width="0.5"/>
<line x1="725.30" y1="423.00" x2="731.70" y2="416.60" stroke="#444" stroke-width="0.8"/>
<text x="721.50" y="338.00" font-size="6.5" fill="#222" font-weight="bold" text-anchor="middle" dominant-baseline="central" transform="rotate(-90 721.50 338.00)">2.78</text>
<text x="785.50" y="157.30" font-size="5" fill="#222" font-weight="bold" text-anchor="middle" textLength="69.00" lengthAdjust="spacingAndGlyphs" dominant-baseline="central">ESCALONES DE 18.5CM.</text>
<text x="977.00" y="60.70" font-size="9.2" fill="#111" font-weight="bold" textLength="49.00" lengthAdjust="spacingAndGlyphs" dominant-baseline="central">N2 = +6.12</text>
<polygon points="977.60,68.20 984.30,68.20 984.30,75.00" fill="#666" stroke="none" stroke-width="1"/>
<polyline points="984.30,68.20 991.60,68.20 984.30,75.00" fill="none" stroke="#888" stroke-width="0.6"/>
<text x="977.00" y="233.20" font-size="9.2" fill="#111" font-weight="bold" textLength="49.00" lengthAdjust="spacingAndGlyphs" dominant-baseline="central">N1 = +3.16</text>
<polygon points="977.60,240.70 984.30,240.70 984.30,247.50" fill="#666" stroke="none" stroke-width="1"/>
<polyline points="984.30,240.70 991.60,240.70 984.30,247.50" fill="none" stroke="#888" stroke-width="0.6"/>
<text x="977.00" y="405.50" font-size="9.2" fill="#111" font-weight="bold" textLength="53.00" lengthAdjust="spacingAndGlyphs" dominant-baseline="central">PB = +0.200</text>
<polygon points="977.60,413.00 984.30,413.00 984.30,419.80" fill="#666" stroke="none" stroke-width="1"/>
<polyline points="984.30,413.00 991.60,413.00 984.30,419.80" fill="none" stroke="#888" stroke-width="0.6"/>
<circle cx="888.50" cy="259.30" r="1.90" fill="#111" stroke="none" stroke-width="0"/>
<line x1="888.50" y1="259.30" x2="909.00" y2="259.30" stroke="#666" stroke-width="0.6"/>
<text x="925.00" y="256.30" font-size="5.2" fill="#222" font-weight="bold" text-anchor="middle" font-style="italic" dominant-baseline="central">TR-03</text>
<text x="925.00" y="262.60" font-size="4.4" fill="#777" text-anchor="middle" textLength="25.00" lengthAdjust="spacingAndGlyphs" dominant-baseline="central">(15 X 40) CM</text>
<circle cx="879.30" cy="345.30" r="1.90" fill="#111" stroke="none" stroke-width="0"/>
<line x1="858.00" y1="345.30" x2="879.30" y2="345.30" stroke="#666" stroke-width="0.6"/>
<text x="849.50" y="345.80" font-size="5.2" fill="#222" font-weight="bold" text-anchor="middle" textLength="49.50" lengthAdjust="spacingAndGlyphs" dominant-baseline="central" transform="rotate(-90 849.50 345.80)">MURO DE BLOCK</text>
<text x="856.00" y="345.80" font-size="4.2" fill="#777" text-anchor="middle" textLength="42.70" lengthAdjust="spacingAndGlyphs" dominant-baseline="central" transform="rotate(-90 856.00 345.80)">(15 X 20 X 40) CM</text>
<text x="883.90" y="284.70" font-size="4.6" fill="#222" font-weight="bold" text-anchor="middle" textLength="15.00" lengthAdjust="spacingAndGlyphs" dominant-baseline="central" transform="rotate(-90 883.90 284.70)">ME-01</text>
<line x1="467.40" y1="512.00" x2="1031.00" y2="512.00" stroke="#a8a8a8" stroke-width="0.9"/>
<circle cx="456.00" cy="512.00" r="11.40" fill="#fff" stroke="#999" stroke-width="0.7"/>
<text x="456.00" y="512.60" font-size="12" fill="#111" font-weight="bold" text-anchor="middle" dominant-baseline="central">3</text>
<text x="474.00" y="507.00" font-size="13.7" fill="#111" font-weight="bold" textLength="252.40" lengthAdjust="spacingAndGlyphs">Corte de escalera - Segundo tramo.</text>
<text x="475.00" y="519.80" font-size="9.6" fill="#333" dominant-baseline="central">1 : 30</text>
<line x1="523.30" y1="573.50" x2="984.30" y2="573.50" stroke="#bdbdbd" stroke-width="1.1" stroke-dasharray="27.6 8.4 11 8.4"/>
<line x1="523.30" y1="746.20" x2="984.30" y2="746.20" stroke="#bdbdbd" stroke-width="1.1" stroke-dasharray="27.6 8.4 11 8.4"/>
<line x1="883.60" y1="548.00" x2="883.60" y2="575.00" stroke="#c4c4c4" stroke-width="0.9"/>
<line x1="867.60" y1="537.40" x2="899.60" y2="537.40" stroke="#aaa" stroke-width="0.6"/>
<line x1="883.60" y1="521.40" x2="883.60" y2="553.40" stroke="#aaa" stroke-width="0.6"/>
<circle cx="883.60" cy="537.40" r="11.25" fill="#fff" stroke="#888" stroke-width="0.6"/>
<path d="M874.33,537.40 A9.28,9.28 0 0 1 883.60,528.12" fill="none" stroke="#757575" stroke-width="3.95"/>
<path d="M892.88,537.40 A9.28,9.28 0 0 1 883.60,546.67" fill="none" stroke="#757575" stroke-width="3.95"/>
<circle cx="883.60" cy="537.40" r="7.30" fill="#fff" stroke="#333" stroke-width="0.6"/>
<text x="883.60" y="537.70" font-size="9" fill="#111" text-anchor="middle" dominant-baseline="central">A</text>
<rect x="574.80" y="746.20" width="347.60" height="52.00" fill="url(#pq4)" stroke="none" stroke-width="1"/>
<rect x="574.80" y="798.20" width="347.60" height="9.30" fill="url(#tf2)" stroke="#777" stroke-width="0.5"/>
<line x1="574.80" y1="798.20" x2="922.40" y2="798.20" stroke="#333" stroke-width="0.9"/>
<line x1="574.80" y1="741.00" x2="574.80" y2="812.00" stroke="#888" stroke-width="0.8"/>
<polygon points="616.00,746.20 616.00,735.38 631.78,735.38 631.78,724.56 647.56,724.56 647.56,713.74 663.34,713.74 663.34,702.92 679.12,702.92 679.12,692.10 694.90,692.10 694.90,681.28 710.68,681.28 710.68,670.46 726.46,670.46 726.46,659.64 742.24,659.64 742.24,648.82 758.02,648.82 758.02,638.00 773.80,638.00 773.80,627.18 789.58,627.18 789.58,616.36 805.36,616.36 805.36,605.54 821.14,605.54 821.14,594.72 859.70,594.72 859.70,584.00 879.30,584.00 879.30,595.30 859.70,595.30 859.70,605.60 840.00,605.60 633.70,746.20" fill="url(#conc)" stroke="#555" stroke-width="0.7"/>
<rect x="879.30" y="596.70" width="8.80" height="149.50" fill="url(#bh)" stroke="#7a9cc0" stroke-width="0.6"/>
<rect x="878.80" y="573.50" width="9.70" height="23.20" fill="#fff" stroke="#111" stroke-width="1.8"/>
<rect x="881.40" y="576.30" width="4.50" height="17.60" fill="none" stroke="#444" stroke-width="0.8" rx="1"/>
<line x1="882.00" y1="593.30" x2="885.00" y2="589.70" stroke="#444" stroke-width="0.8"/>
<rect x="878.80" y="746.20" width="9.70" height="17.10" fill="#fff" stroke="#111" stroke-width="1.8"/>
<rect x="881.40" y="749.00" width="4.50" height="11.50" fill="none" stroke="#444" stroke-width="0.8" rx="1"/>
<line x1="882.00" y1="759.90" x2="885.00" y2="756.30" stroke="#444" stroke-width="0.8"/>
<rect x="616.30" y="746.20" width="8.90" height="17.10" fill="#fff" stroke="#111" stroke-width="1.8"/>
<rect x="618.90" y="749.00" width="3.70" height="11.50" fill="none" stroke="#444" stroke-width="0.8" rx="1"/>
<line x1="619.50" y1="759.90" x2="622.50" y2="756.30" stroke="#444" stroke-width="0.8"/>
<rect x="865.00" y="763.30" width="23.30" height="34.90" fill="url(#stone)" stroke="#111" stroke-width="1.8"/>
<rect x="609.30" y="763.30" width="23.30" height="34.90" fill="url(#stone)" stroke="#111" stroke-width="1.8"/>
<text x="876.60" y="781.00" font-size="9.5" fill="#555" text-anchor="middle" textLength="28.00" lengthAdjust="spacingAndGlyphs" dominant-baseline="central" transform="rotate(-90 876.60 781.00)">ZM-02</text>
<text x="621.00" y="781.00" font-size="9.5" fill="#555" text-anchor="middle" textLength="28.00" lengthAdjust="spacingAndGlyphs" dominant-baseline="central" transform="rotate(90 621.00 781.00)">ZM-01</text>
<text x="667.80" y="632.40" font-size="5" fill="#222" font-weight="bold" text-anchor="middle" textLength="69.00" lengthAdjust="spacingAndGlyphs" dominant-baseline="central">ESCALONES DE 18.5CM.</text>
<text x="770.00" y="692.40" font-size="8" fill="#444" text-anchor="middle" textLength="59.00" lengthAdjust="spacingAndGlyphs" dominant-baseline="central" transform="rotate(-90 770.00 692.40)">33 R @ 185.0 mm</text>
<text x="983.60" y="559.20" font-size="9.2" fill="#111" font-weight="bold" textLength="49.00" lengthAdjust="spacingAndGlyphs" dominant-baseline="central">N1 = +3.16</text>
<polygon points="984.20,566.70 990.90,566.70 990.90,573.50" fill="#666" stroke="none" stroke-width="1"/>
<polyline points="990.90,566.70 998.20,566.70 990.90,573.50" fill="none" stroke="#888" stroke-width="0.6"/>
<text x="983.60" y="731.90" font-size="9.2" fill="#111" font-weight="bold" textLength="53.00" lengthAdjust="spacingAndGlyphs" dominant-baseline="central">PB = +0.200</text>
<polygon points="984.20,739.40 990.90,739.40 990.90,746.20" fill="#666" stroke="none" stroke-width="1"/>
<polyline points="990.90,739.40 998.20,739.40 990.90,746.20" fill="none" stroke="#888" stroke-width="0.6"/>
<circle cx="888.70" cy="585.00" r="1.90" fill="#111" stroke="none" stroke-width="0"/>
<line x1="888.70" y1="585.00" x2="914.60" y2="585.00" stroke="#666" stroke-width="0.6"/>
<text x="930.00" y="582.00" font-size="5.2" fill="#222" font-weight="bold" text-anchor="middle" font-style="italic" dominant-baseline="central">TR-03</text>
<text x="930.00" y="588.60" font-size="4.4" fill="#777" text-anchor="middle" textLength="25.00" lengthAdjust="spacingAndGlyphs" dominant-baseline="central">(15 X 40) CM</text>
<circle cx="879.20" cy="671.30" r="1.90" fill="#111" stroke="none" stroke-width="0"/>
<line x1="868.50" y1="671.30" x2="879.20" y2="671.30" stroke="#666" stroke-width="0.6"/>
<text x="859.20" y="671.00" font-size="5.2" fill="#222" font-weight="bold" text-anchor="middle" textLength="49.50" lengthAdjust="spacingAndGlyphs" dominant-baseline="central" transform="rotate(-90 859.20 671.00)">MURO DE BLOCK</text>
<text x="865.50" y="671.00" font-size="4.2" fill="#777" text-anchor="middle" textLength="42.70" lengthAdjust="spacingAndGlyphs" dominant-baseline="central" transform="rotate(-90 865.50 671.00)">(15 X 20 X 40) CM</text>
<text x="883.90" y="610.00" font-size="4.6" fill="#222" font-weight="bold" text-anchor="middle" textLength="15.00" lengthAdjust="spacingAndGlyphs" dominant-baseline="central" transform="rotate(-90 883.90 610.00)">ME-01</text>
<line x1="466.90" y1="843.50" x2="1029.00" y2="843.50" stroke="#a8a8a8" stroke-width="0.9"/>
<circle cx="455.50" cy="843.50" r="11.40" fill="#fff" stroke="#999" stroke-width="0.7"/>
<text x="455.50" y="844.10" font-size="12" fill="#111" font-weight="bold" text-anchor="middle" dominant-baseline="central">4</text>
<text x="474.00" y="838.00" font-size="13.7" fill="#111" font-weight="bold" textLength="234.00" lengthAdjust="spacingAndGlyphs">Corte de escalera - Primer tramo.</text>
<text x="475.00" y="851.30" font-size="9.6" fill="#333" dominant-baseline="central">1 : 30</text>
<rect x="1116.70" y="99.80" width="111.50" height="95.00" fill="url(#pqA)" stroke="none" stroke-width="1"/>
<rect x="1116.70" y="89.70" width="111.50" height="10.10" fill="url(#speck)" stroke="#999" stroke-width="0.5"/>
<rect x="1116.70" y="194.80" width="111.50" height="17.70" fill="url(#tf3)" stroke="#777" stroke-width="0.5"/>
<line x1="1116.70" y1="194.80" x2="1228.20" y2="194.80" stroke="#333" stroke-width="0.9"/>
<line x1="1116.70" y1="85.90" x2="1116.70" y2="214.00" stroke="#777" stroke-width="0.7"/>
<line x1="1228.20" y1="85.90" x2="1228.20" y2="214.00" stroke="#777" stroke-width="0.7"/>
<path d="M1116.70,148.30 L1116.70,152.30 L1113.70,154.30 L1116.70,156.30 L1116.70,160.30" fill="none" stroke="#666" stroke-width="0.6"/>
<path d="M1228.20,148.30 L1228.20,152.30 L1231.20,154.30 L1228.20,156.30 L1228.20,160.30" fill="none" stroke="#666" stroke-width="0.6"/>
<rect x="1163.60" y="51.70" width="17.70" height="38.00" fill="url(#bh)" stroke="#8aa" stroke-width="0.5"/>
<line x1="1154.70" y1="51.70" x2="1189.00" y2="51.70" stroke="#777" stroke-width="0.6"/>
<path d="M1166,51.7 l3,-3 l3,3 l3,-3" fill="none" stroke="#777" stroke-width="0.6"/>
<rect x="1163.60" y="89.70" width="17.70" height="34.70" fill="#fff" stroke="#111" stroke-width="1.8"/>
<rect x="1167.00" y="93.50" width="10.80" height="25.00" fill="none" stroke="#555" stroke-width="1.1" rx="1.5"/>
<line x1="1168.50" y1="117.50" x2="1174.00" y2="111.50" stroke="#555" stroke-width="1"/>
<line x1="1170.50" y1="118.50" x2="1176.00" y2="112.50" stroke="#555" stroke-width="1"/>
<line x1="1149.00" y1="99.80" x2="1149.00" y2="124.40" stroke="#999" stroke-width="0.8"/>
<line x1="1195.80" y1="99.80" x2="1195.80" y2="124.40" stroke="#999" stroke-width="0.8"/>
<rect x="1148.90" y="124.40" width="46.90" height="70.40" fill="url(#stone)" stroke="#111" stroke-width="1.8"/>
<text x="1172.00" y="160.80" font-size="13" fill="#111" font-weight="bold" text-anchor="middle" textLength="41.00" lengthAdjust="spacingAndGlyphs" dominant-baseline="central">ZM-01</text>
<line x1="1161.60" y1="36.50" x2="1183.30" y2="36.50" stroke="#888" stroke-width="0.7"/>
<line x1="1163.60" y1="33.50" x2="1163.60" y2="39.50" stroke="#bbb" stroke-width="0.5"/>
<line x1="1160.40" y1="39.70" x2="1166.80" y2="33.30" stroke="#444" stroke-width="0.8"/>
<line x1="1181.30" y1="33.50" x2="1181.30" y2="39.50" stroke="#bbb" stroke-width="0.5"/>
<line x1="1178.10" y1="39.70" x2="1184.50" y2="33.30" stroke="#444" stroke-width="0.8"/>
<text x="1171.70" y="29.00" font-size="6.5" fill="#222" font-weight="bold" text-anchor="middle" dominant-baseline="central">0.15</text>
<text x="1124.30" y="55.50" font-size="6.2" fill="#222" font-weight="bold" text-anchor="middle" textLength="49.00" lengthAdjust="spacingAndGlyphs" dominant-baseline="central">MURO DE BLOCK</text>
<text x="1124.30" y="61.80" font-size="4.4" fill="#777" text-anchor="middle" textLength="42.00" lengthAdjust="spacingAndGlyphs" dominant-baseline="central">(15 X 20 X 40) CM</text>
<line x1="1148.00" y1="58.00" x2="1172.50" y2="58.00" stroke="#666" stroke-width="0.6"/>
<text x="1128.60" y="70.60" font-size="6.2" fill="#222" font-weight="bold" text-anchor="middle" dominant-baseline="central">FC-01</text>
<text x="1128.60" y="76.30" font-size="4.4" fill="#777" text-anchor="middle" textLength="25.00" lengthAdjust="spacingAndGlyphs" dominant-baseline="central">H = 08 CM</text>
<text x="1218.00" y="70.60" font-size="6.2" fill="#222" font-weight="bold" text-anchor="middle" dominant-baseline="central">FC-01</text>
<text x="1218.00" y="76.30" font-size="4.4" fill="#777" text-anchor="middle" textLength="25.00" lengthAdjust="spacingAndGlyphs" dominant-baseline="central">H = 08 CM</text>
<line x1="1128.60" y1="80.00" x2="1128.60" y2="94.20" stroke="#666" stroke-width="0.6"/>
<line x1="1218.60" y1="80.00" x2="1218.60" y2="94.20" stroke="#666" stroke-width="0.6"/>
<circle cx="1128.60" cy="94.20" r="2.30" fill="#111" stroke="none" stroke-width="0"/>
<circle cx="1197.00" cy="94.20" r="2.30" fill="#111" stroke="none" stroke-width="0"/>
<circle cx="1218.60" cy="94.20" r="2.30" fill="#111" stroke="none" stroke-width="0"/>
<circle cx="1172.50" cy="58.00" r="2.30" fill="#111" stroke="none" stroke-width="0"/>
<circle cx="1173.20" cy="106.90" r="2.30" fill="#111" stroke="none" stroke-width="0"/>
<circle cx="1212.30" cy="149.70" r="2.30" fill="#111" stroke="none" stroke-width="0"/>
<circle cx="1181.30" cy="187.70" r="2.30" fill="#111" stroke="none" stroke-width="0"/>
<circle cx="1197.00" cy="201.90" r="2.30" fill="#111" stroke="none" stroke-width="0"/>
<polyline points="1197.00,94.20 1197.00,52.40 1242.10,52.40" fill="none" stroke="#666" stroke-width="0.6"/>
<line x1="1173.20" y1="106.90" x2="1242.10" y2="106.90" stroke="#666" stroke-width="0.6"/>
<line x1="1212.30" y1="149.70" x2="1242.10" y2="149.70" stroke="#666" stroke-width="0.6"/>
<line x1="1181.30" y1="187.70" x2="1242.10" y2="187.70" stroke="#666" stroke-width="0.6"/>
<polyline points="1197.00,201.90 1197.00,228.50 1242.10,228.50" fill="none" stroke="#666" stroke-width="0.6"/>
<text x="1244.70" y="52.90" font-size="5.6" fill="#222" font-weight="bold" textLength="58.00" lengthAdjust="spacingAndGlyphs" dominant-baseline="central">-Firme de concreto.</text>
<text x="1244.70" y="60.20" font-size="5.6" fill="#222" font-weight="bold" textLength="138.00" lengthAdjust="spacingAndGlyphs" dominant-baseline="central">-Armado con malla electrosoldada 6x6/10-10.</text>
<text x="1244.70" y="67.60" font-size="5.6" fill="#222" font-weight="bold" textLength="77.00" lengthAdjust="spacingAndGlyphs" dominant-baseline="central">-Resistencia = 100 kg/cm².</text>
<text x="1244.70" y="107.40" font-size="5.6" fill="#222" font-weight="bold" textLength="75.00" lengthAdjust="spacingAndGlyphs" dominant-baseline="central">-Cadena de cimentación</text>
<text x="1244.70" y="114.80" font-size="5.6" fill="#222" font-weight="bold" textLength="79.50" lengthAdjust="spacingAndGlyphs" dominant-baseline="central">-Armada con 4 Var. del #3.</text>
<text x="1244.70" y="122.10" font-size="5.6" fill="#222" font-weight="bold" textLength="72.00" lengthAdjust="spacingAndGlyphs" dominant-baseline="central">-Estribos del #3 @ 20 cm.</text>
<text x="1244.70" y="129.40" font-size="5.6" fill="#222" font-weight="bold" textLength="77.00" lengthAdjust="spacingAndGlyphs" dominant-baseline="central">-Resistencia = 250 kg/cm².</text>
<text x="1244.70" y="150.20" font-size="5.6" fill="#222" font-weight="bold" textLength="84.00" lengthAdjust="spacingAndGlyphs" dominant-baseline="central">-Relleno producto de banco.</text>
<text x="1244.70" y="157.60" font-size="5.6" fill="#222" font-weight="bold" textLength="134.00" lengthAdjust="spacingAndGlyphs" dominant-baseline="central">-Compactado en capas no mayores a 20 cm.</text>
<text x="1244.70" y="188.00" font-size="5.6" fill="#222" font-weight="bold" textLength="132.00" lengthAdjust="spacingAndGlyphs" dominant-baseline="central">-Mampostería a base de piedra de la región.</text>
<text x="1244.70" y="195.30" font-size="5.6" fill="#222" font-weight="bold" textLength="125.00" lengthAdjust="spacingAndGlyphs" dominant-baseline="central">-Colocada con mortero en proporción 1:4.</text>
<text x="1244.70" y="228.50" font-size="5.6" fill="#222" font-weight="bold" textLength="42.00" lengthAdjust="spacingAndGlyphs" dominant-baseline="central">-Terreno firme.</text>
<text x="1244.70" y="236.10" font-size="5.6" fill="#222" font-weight="bold" textLength="104.50" lengthAdjust="spacingAndGlyphs" dominant-baseline="central">-Libre de tierra o material orgánico.</text>
<text x="1244.70" y="243.50" font-size="5.6" fill="#222" font-weight="bold" textLength="65.50" lengthAdjust="spacingAndGlyphs" dominant-baseline="central">-Profundidad variable.</text>
<line x1="1101.50" y1="274.60" x2="1403.00" y2="274.60" stroke="#a8a8a8" stroke-width="0.9"/>
<circle cx="1090.10" cy="274.60" r="11.40" fill="#fff" stroke="#999" stroke-width="0.7"/>
<text x="1090.10" y="275.20" font-size="12" fill="#111" font-weight="bold" text-anchor="middle" dominant-baseline="central">A</text>
<text x="1107.40" y="268.80" font-size="14.5" fill="#111" font-weight="bold" textLength="177.00" lengthAdjust="spacingAndGlyphs">Zapata corrida - (ZM-01)-</text>
<text x="1108.40" y="282.40" font-size="9.6" fill="#333" dominant-baseline="central">1 : 15</text>
<rect x="1117.50" y="353.30" width="110.70" height="105.20" fill="url(#pqB)" stroke="none" stroke-width="1"/>
<rect x="1166.10" y="353.30" width="62.10" height="10.20" fill="url(#speck)" stroke="#999" stroke-width="0.5"/>
<rect x="1117.50" y="458.50" width="110.70" height="18.50" fill="url(#tf4)" stroke="#777" stroke-width="0.5"/>
<line x1="1117.50" y1="458.50" x2="1228.20" y2="458.50" stroke="#333" stroke-width="0.9"/>
<line x1="1117.50" y1="340.00" x2="1117.50" y2="480.00" stroke="#777" stroke-width="0.7"/>
<line x1="1228.20" y1="340.00" x2="1228.20" y2="480.00" stroke="#777" stroke-width="0.7"/>
<path d="M1117.50,412.00 L1117.50,416.00 L1114.50,418.00 L1117.50,420.00 L1117.50,424.00" fill="none" stroke="#666" stroke-width="0.6"/>
<path d="M1228.20,412.00 L1228.20,416.00 L1231.20,418.00 L1228.20,420.00 L1228.20,424.00" fill="none" stroke="#666" stroke-width="0.6"/>
<rect x="1149.70" y="314.10" width="16.40" height="39.20" fill="url(#bh)" stroke="#8aa" stroke-width="0.5"/>
<line x1="1140.80" y1="314.10" x2="1175.00" y2="314.10" stroke="#777" stroke-width="0.6"/>
<path d="M1152,314.1 l3,-3 l3,3 l3,-3" fill="none" stroke="#777" stroke-width="0.6"/>
<rect x="1149.70" y="353.30" width="16.40" height="35.00" fill="#fff" stroke="#111" stroke-width="1.8"/>
<rect x="1152.70" y="357.00" width="10.40" height="25.50" fill="none" stroke="#555" stroke-width="1.1" rx="1.5"/>
<line x1="1154.00" y1="381.50" x2="1159.00" y2="375.50" stroke="#555" stroke-width="1"/>
<line x1="1156.00" y1="382.50" x2="1161.00" y2="376.50" stroke="#555" stroke-width="1"/>
<rect x="1149.20" y="388.30" width="47.30" height="70.20" fill="url(#stone)" stroke="#111" stroke-width="1.8"/>
<text x="1172.50" y="424.50" font-size="13" fill="#111" font-weight="bold" text-anchor="middle" textLength="42.00" lengthAdjust="spacingAndGlyphs" dominant-baseline="central">ZM-02</text>
<text x="1113.00" y="330.60" font-size="6.2" fill="#222" font-weight="bold" text-anchor="middle" textLength="49.00" lengthAdjust="spacingAndGlyphs" dominant-baseline="central">MURO DE BLOCK</text>
<text x="1113.00" y="336.90" font-size="4.4" fill="#777" text-anchor="middle" textLength="42.00" lengthAdjust="spacingAndGlyphs" dominant-baseline="central">(15 X 20 X 40) CM</text>
<line x1="1136.00" y1="333.60" x2="1157.80" y2="333.60" stroke="#666" stroke-width="0.6"/>
<text x="1218.80" y="329.80" font-size="6.2" fill="#222" font-weight="bold" text-anchor="middle" dominant-baseline="central">FC-01</text>
<text x="1218.80" y="336.20" font-size="4.4" fill="#777" text-anchor="middle" textLength="25.00" lengthAdjust="spacingAndGlyphs" dominant-baseline="central">H = 08 CM</text>
<line x1="1218.80" y1="340.00" x2="1218.80" y2="357.60" stroke="#666" stroke-width="0.6"/>
<line x1="1089.40" y1="350.30" x2="1089.40" y2="391.80" stroke="#888" stroke-width="0.7"/>
<line x1="1086.40" y1="353.30" x2="1092.40" y2="353.30" stroke="#bbb" stroke-width="0.5"/>
<line x1="1086.20" y1="356.50" x2="1092.60" y2="350.10" stroke="#444" stroke-width="0.8"/>
<line x1="1086.40" y1="388.80" x2="1092.40" y2="388.80" stroke="#bbb" stroke-width="0.5"/>
<line x1="1086.20" y1="392.00" x2="1092.60" y2="385.60" stroke="#444" stroke-width="0.8"/>
<text x="1082.30" y="370.60" font-size="6.5" fill="#222" font-weight="bold" text-anchor="middle" dominant-baseline="central" transform="rotate(-90 1082.30 370.60)">0.30</text>
<circle cx="1157.80" cy="333.60" r="2.30" fill="#111" stroke="none" stroke-width="0"/>
<circle cx="1180.60" cy="357.60" r="2.30" fill="#111" stroke="none" stroke-width="0"/>
<circle cx="1218.80" cy="357.60" r="2.30" fill="#111" stroke="none" stroke-width="0"/>
<circle cx="1159.00" cy="370.60" r="2.30" fill="#111" stroke="none" stroke-width="0"/>
<circle cx="1215.00" cy="413.40" r="2.30" fill="#111" stroke="none" stroke-width="0"/>
<circle cx="1184.40" cy="451.40" r="2.30" fill="#111" stroke="none" stroke-width="0"/>
<circle cx="1180.60" cy="465.60" r="2.30" fill="#111" stroke="none" stroke-width="0"/>
<polyline points="1180.60,357.60 1180.60,316.10 1242.10,316.10" fill="none" stroke="#666" stroke-width="0.6"/>
<line x1="1159.00" y1="370.60" x2="1242.10" y2="370.60" stroke="#666" stroke-width="0.6"/>
<line x1="1215.00" y1="413.40" x2="1242.10" y2="413.40" stroke="#666" stroke-width="0.6"/>
<line x1="1184.40" y1="451.40" x2="1242.10" y2="451.40" stroke="#666" stroke-width="0.6"/>
<polyline points="1180.60,465.60 1180.60,492.00 1242.10,492.00" fill="none" stroke="#666" stroke-width="0.6"/>
<text x="1246.00" y="316.10" font-size="5.6" fill="#222" font-weight="bold" textLength="58.00" lengthAdjust="spacingAndGlyphs" dominant-baseline="central">-Firme de concreto.</text>
<text x="1246.00" y="323.70" font-size="5.6" fill="#222" font-weight="bold" textLength="138.00" lengthAdjust="spacingAndGlyphs" dominant-baseline="central">-Armado con malla electrosoldada 6x6/10-10.</text>
<text x="1246.00" y="331.00" font-size="5.6" fill="#222" font-weight="bold" textLength="77.00" lengthAdjust="spacingAndGlyphs" dominant-baseline="central">-Resistencia = 100 kg/cm².</text>
<text x="1246.00" y="370.60" font-size="5.6" fill="#222" font-weight="bold" textLength="74.00" lengthAdjust="spacingAndGlyphs" dominant-baseline="central">-Cadena de cimentación</text>
<text x="1246.00" y="378.20" font-size="5.6" fill="#222" font-weight="bold" textLength="79.50" lengthAdjust="spacingAndGlyphs" dominant-baseline="central">-Armada con 4 Var. del #3.</text>
<text x="1246.00" y="385.50" font-size="5.6" fill="#222" font-weight="bold" textLength="70.00" lengthAdjust="spacingAndGlyphs" dominant-baseline="central">-Estribos del #3 @ 20 cm.</text>
<text x="1246.00" y="392.90" font-size="5.6" fill="#222" font-weight="bold" textLength="77.00" lengthAdjust="spacingAndGlyphs" dominant-baseline="central">-Resistencia = 250 kg/cm².</text>
<text x="1246.00" y="413.60" font-size="5.6" fill="#222" font-weight="bold" textLength="84.00" lengthAdjust="spacingAndGlyphs" dominant-baseline="central">-Relleno producto de banco.</text>
<text x="1246.00" y="421.20" font-size="5.6" fill="#222" font-weight="bold" textLength="134.00" lengthAdjust="spacingAndGlyphs" dominant-baseline="central">-Compactado en capas no mayores a 20 cm.</text>
<text x="1246.00" y="451.40" font-size="5.6" fill="#222" font-weight="bold" textLength="132.00" lengthAdjust="spacingAndGlyphs" dominant-baseline="central">-Mampostería a base de piedra de la región.</text>
<text x="1246.00" y="458.90" font-size="5.6" fill="#222" font-weight="bold" textLength="125.00" lengthAdjust="spacingAndGlyphs" dominant-baseline="central">-Colocada con mortero en proporción 1:4.</text>
<text x="1246.00" y="492.00" font-size="5.6" fill="#222" font-weight="bold" textLength="42.00" lengthAdjust="spacingAndGlyphs" dominant-baseline="central">-Terreno firme.</text>
<text x="1246.00" y="499.60" font-size="5.6" fill="#222" font-weight="bold" textLength="104.50" lengthAdjust="spacingAndGlyphs" dominant-baseline="central">-Libre de tierra o material orgánico.</text>
<text x="1246.00" y="506.90" font-size="5.6" fill="#222" font-weight="bold" textLength="65.50" lengthAdjust="spacingAndGlyphs" dominant-baseline="central">-Profundidad variable.</text>
<line x1="1076.40" y1="534.20" x2="1379.00" y2="534.20" stroke="#a8a8a8" stroke-width="0.9"/>
<circle cx="1065.00" cy="534.20" r="11.40" fill="#fff" stroke="#999" stroke-width="0.7"/>
<text x="1065.00" y="534.80" font-size="12" fill="#111" font-weight="bold" text-anchor="middle" dominant-baseline="central">B</text>
<text x="1083.80" y="529.20" font-size="14.5" fill="#111" font-weight="bold" textLength="177.00" lengthAdjust="spacingAndGlyphs">Zapata corrida - (ZM-02)-</text>
<text x="1084.80" y="542.00" font-size="9.6" fill="#333" dominant-baseline="central">1 : 15</text>
<rect x="1105.50" y="601.20" width="169.90" height="78.80" fill="url(#pq5)" stroke="none" stroke-width="1"/>
<rect x="1198.40" y="601.20" width="34.70" height="26.00" fill="#fff" stroke="none" stroke-width="1"/>
<rect x="1105.50" y="680.00" width="169.90" height="13.40" fill="url(#tf5)" stroke="#777" stroke-width="0.5"/>
<line x1="1105.50" y1="680.00" x2="1275.40" y2="680.00" stroke="#333" stroke-width="0.9"/>
<line x1="1105.50" y1="562.80" x2="1105.50" y2="696.70" stroke="#777" stroke-width="0.7"/>
<line x1="1275.40" y1="597.30" x2="1275.40" y2="700.70" stroke="#777" stroke-width="0.7"/>
<path d="M1105.50,649.50 L1105.50,653.50 L1102.50,655.50 L1105.50,657.50 L1105.50,661.50" fill="none" stroke="#666" stroke-width="0.6"/>
<path d="M1275.40,637.00 L1275.40,641.00 L1278.40,643.00 L1275.40,645.00 L1275.40,649.00" fill="none" stroke="#666" stroke-width="0.6"/>
<polygon points="1179.30,568.70 1198.40,568.70 1198.40,585.50 1222.60,585.50 1222.60,600.20 1193.10,600.20 1180.30,589.40 1180.30,584.00 1178.00,582.00 1180.30,580.00" fill="url(#conc)" stroke="#555" stroke-width="0.6"/>
<line x1="1179.30" y1="562.00" x2="1179.30" y2="592.00" stroke="#777" stroke-width="0.6"/>
<rect x="1209.30" y="601.20" width="13.00" height="25.60" fill="#fff" stroke="#111" stroke-width="1.8"/>
<rect x="1211.80" y="604.50" width="8.00" height="18.50" fill="none" stroke="#555" stroke-width="1" rx="1.2"/>
<line x1="1213.00" y1="621.50" x2="1217.00" y2="617.00" stroke="#555" stroke-width="0.9"/>
<rect x="1198.40" y="627.00" width="34.70" height="53.00" fill="url(#stone)" stroke="#111" stroke-width="1.8"/>
<text x="1215.80" y="650.80" font-size="12" fill="#111" font-weight="bold" text-anchor="middle" textLength="35.00" lengthAdjust="spacingAndGlyphs" dominant-baseline="central">ZM-01</text>
<text x="1203.00" y="572.80" font-size="6" fill="#222" font-weight="bold" textLength="74.00" lengthAdjust="spacingAndGlyphs" dominant-baseline="central">Escalones de = 18.50 cm.</text>
<text x="1260.00" y="583.50" font-size="6" fill="#222" font-weight="bold" text-anchor="middle" font-style="italic" dominant-baseline="central">CD-01</text>
<text x="1260.00" y="590.40" font-size="4.5" fill="#777" text-anchor="middle" textLength="31.00" lengthAdjust="spacingAndGlyphs" dominant-baseline="central">(15 X 30) CM</text>
<polyline points="1215.80,600.80 1229.50,586.40 1244.30,586.40" fill="none" stroke="#666" stroke-width="0.6"/>
<circle cx="1215.80" cy="600.80" r="2.20" fill="#111" stroke="none" stroke-width="0"/>
<line x1="1100.70" y1="740.70" x2="1375.00" y2="740.70" stroke="#a8a8a8" stroke-width="0.9"/>
<circle cx="1089.30" cy="740.70" r="11.40" fill="#fff" stroke="#999" stroke-width="0.7"/>
<text x="1089.30" y="741.30" font-size="12" fill="#111" font-weight="bold" text-anchor="middle" dominant-baseline="central">5</text>
<text x="1107.40" y="735.80" font-size="14.5" fill="#111" font-weight="bold" textLength="185.50" lengthAdjust="spacingAndGlyphs">Cimentación de escalera-</text>
<text x="1108.40" y="748.50" font-size="9.6" fill="#333" dominant-baseline="central">1 : 20</text>
<rect x="1086.50" y="761.50" width="247.30" height="27.60" fill="#fff" stroke="#999" stroke-width="1"/>
<line x1="1086.50" y1="780.20" x2="1333.80" y2="780.20" stroke="#999" stroke-width="0.9"/>
<text x="1210.15" y="771.45" font-size="12.716000000000031" fill="#0b7cf6" font-weight="bold" text-anchor="middle" textLength="109.00" lengthAdjust="spacingAndGlyphs" dominant-baseline="central">Armado de trabes.</text>
<line x1="1135.20" y1="780.20" x2="1135.20" y2="789.10" stroke="#999" stroke-width="0.9"/>
<line x1="1158.00" y1="780.20" x2="1158.00" y2="789.10" stroke="#999" stroke-width="0.9"/>
<line x1="1204.30" y1="780.20" x2="1204.30" y2="789.10" stroke="#999" stroke-width="0.9"/>
<line x1="1292.40" y1="780.20" x2="1292.40" y2="789.10" stroke="#999" stroke-width="0.9"/>
<text x="1110.85" y="784.85" font-size="5" fill="#222" font-weight="bold" text-anchor="middle" textLength="39.00" lengthAdjust="spacingAndGlyphs" dominant-baseline="central">DESCRIPCION</text>
<text x="1146.60" y="784.85" font-size="5" fill="#222" font-weight="bold" text-anchor="middle" textLength="18.70" lengthAdjust="spacingAndGlyphs" dominant-baseline="central">CLAVE</text>
<text x="1181.15" y="784.85" font-size="5" fill="#222" font-weight="bold" text-anchor="middle" textLength="32.50" lengthAdjust="spacingAndGlyphs" dominant-baseline="central">DIMENSION</text>
<text x="1248.35" y="784.85" font-size="5" fill="#222" font-weight="bold" text-anchor="middle" textLength="26.80" lengthAdjust="spacingAndGlyphs" dominant-baseline="central">ARMADO</text>
<text x="1313.10" y="784.85" font-size="5" fill="#222" font-weight="bold" text-anchor="middle" textLength="35.00" lengthAdjust="spacingAndGlyphs" dominant-baseline="central">RESISTENCIA</text>
<rect x="1086.50" y="799.20" width="247.30" height="69.09" fill="#fff" stroke="#999" stroke-width="1"/>
<line x1="1135.20" y1="799.20" x2="1135.20" y2="868.29" stroke="#999" stroke-width="0.9"/>
<line x1="1158.00" y1="799.20" x2="1158.00" y2="868.29" stroke="#999" stroke-width="0.9"/>
<line x1="1204.30" y1="799.20" x2="1204.30" y2="868.29" stroke="#999" stroke-width="0.9"/>
<line x1="1292.40" y1="799.20" x2="1292.40" y2="868.29" stroke="#999" stroke-width="0.9"/>
<line x1="1086.50" y1="822.23" x2="1333.80" y2="822.23" stroke="#999" stroke-width="0.9"/>
<line x1="1086.50" y1="845.26" x2="1333.80" y2="845.26" stroke="#999" stroke-width="0.9"/>
<text x="1110.85" y="803.82" font-size="5.6" fill="#222" font-weight="bold" text-anchor="middle" textLength="25.50" lengthAdjust="spacingAndGlyphs" dominant-baseline="central">Trabe de</text>
<text x="1110.85" y="810.92" font-size="5.6" fill="#222" font-weight="bold" text-anchor="middle" textLength="26.50" lengthAdjust="spacingAndGlyphs" dominant-baseline="central">concreto</text>
<text x="1110.85" y="818.02" font-size="5.6" fill="#222" font-weight="bold" text-anchor="middle" textLength="24.00" lengthAdjust="spacingAndGlyphs" dominant-baseline="central">armado.</text>
<text x="1146.60" y="810.92" font-size="5.6" fill="#222" font-weight="bold" text-anchor="middle" textLength="15.00" lengthAdjust="spacingAndGlyphs" dominant-baseline="central">TR-01</text>
<text x="1181.15" y="810.92" font-size="5.6" fill="#222" font-weight="bold" text-anchor="middle" textLength="38.50" lengthAdjust="spacingAndGlyphs" dominant-baseline="central">(15 X 30) CM</text>
<text x="1248.35" y="803.82" font-size="5.6" fill="#222" font-weight="bold" text-anchor="middle" textLength="81.00" lengthAdjust="spacingAndGlyphs" dominant-baseline="central">Trabe armada con 4 varillas</text>
<text x="1248.35" y="810.92" font-size="5.6" fill="#222" font-weight="bold" text-anchor="middle" textLength="82.00" lengthAdjust="spacingAndGlyphs" dominant-baseline="central">del #3 y estribos del #3 @ 15</text>
<text x="1248.35" y="818.02" font-size="5.6" fill="#222" font-weight="bold" text-anchor="middle" textLength="6.00" lengthAdjust="spacingAndGlyphs" dominant-baseline="central">cm.</text>
<text x="1313.10" y="810.92" font-size="5.6" fill="#222" font-weight="bold" text-anchor="middle" textLength="37.50" lengthAdjust="spacingAndGlyphs" dominant-baseline="central">250 KG/CM2</text>
<text x="1110.85" y="826.85" font-size="5.6" fill="#222" font-weight="bold" text-anchor="middle" textLength="25.50" lengthAdjust="spacingAndGlyphs" dominant-baseline="central">Trabe de</text>
<text x="1110.85" y="833.95" font-size="5.6" fill="#222" font-weight="bold" text-anchor="middle" textLength="26.50" lengthAdjust="spacingAndGlyphs" dominant-baseline="central">concreto</text>
<text x="1110.85" y="841.05" font-size="5.6" fill="#222" font-weight="bold" text-anchor="middle" textLength="24.00" lengthAdjust="spacingAndGlyphs" dominant-baseline="central">armado.</text>
<text x="1146.60" y="833.95" font-size="5.6" fill="#222" font-weight="bold" text-anchor="middle" textLength="15.00" lengthAdjust="spacingAndGlyphs" dominant-baseline="central">TR-02</text>
<text x="1181.15" y="833.95" font-size="5.6" fill="#222" font-weight="bold" text-anchor="middle" textLength="38.50" lengthAdjust="spacingAndGlyphs" dominant-baseline="central">(15 X 30) CM</text>
<text x="1248.35" y="830.40" font-size="5.6" fill="#222" font-weight="bold" text-anchor="middle" textLength="83.00" lengthAdjust="spacingAndGlyphs" dominant-baseline="central">Armada con 4 varillas del #4</text>
<text x="1248.35" y="837.50" font-size="5.6" fill="#222" font-weight="bold" text-anchor="middle" textLength="74.00" lengthAdjust="spacingAndGlyphs" dominant-baseline="central">y estribos del #3 @ 20 cm.</text>
<text x="1313.10" y="833.95" font-size="5.6" fill="#222" font-weight="bold" text-anchor="middle" textLength="37.50" lengthAdjust="spacingAndGlyphs" dominant-baseline="central">250 KG/CM2</text>
<text x="1110.85" y="849.88" font-size="5.6" fill="#222" font-weight="bold" text-anchor="middle" textLength="25.50" lengthAdjust="spacingAndGlyphs" dominant-baseline="central">Trabe de</text>
<text x="1110.85" y="856.98" font-size="5.6" fill="#222" font-weight="bold" text-anchor="middle" textLength="26.50" lengthAdjust="spacingAndGlyphs" dominant-baseline="central">concreto</text>
<text x="1110.85" y="864.08" font-size="5.6" fill="#222" font-weight="bold" text-anchor="middle" textLength="24.00" lengthAdjust="spacingAndGlyphs" dominant-baseline="central">armado.</text>
<text x="1146.60" y="856.98" font-size="5.6" fill="#222" font-weight="bold" text-anchor="middle" textLength="15.00" lengthAdjust="spacingAndGlyphs" dominant-baseline="central">TR-03</text>
<text x="1181.15" y="856.98" font-size="5.6" fill="#222" font-weight="bold" text-anchor="middle" textLength="38.50" lengthAdjust="spacingAndGlyphs" dominant-baseline="central">(15 X 40) CM</text>
<text x="1248.35" y="849.88" font-size="5.6" fill="#222" font-weight="bold" text-anchor="middle" textLength="81.00" lengthAdjust="spacingAndGlyphs" dominant-baseline="central">Trabe armada con 6 varillas</text>
<text x="1248.35" y="856.98" font-size="5.6" fill="#222" font-weight="bold" text-anchor="middle" textLength="82.00" lengthAdjust="spacingAndGlyphs" dominant-baseline="central">del #3 y estribos del #3 @ 15</text>
<text x="1248.35" y="864.08" font-size="5.6" fill="#222" font-weight="bold" text-anchor="middle" textLength="6.00" lengthAdjust="spacingAndGlyphs" dominant-baseline="central">cm.</text>
<text x="1313.10" y="856.98" font-size="5.6" fill="#222" font-weight="bold" text-anchor="middle" textLength="37.50" lengthAdjust="spacingAndGlyphs" dominant-baseline="central">250 KG/CM2</text>
<rect x="847.30" y="914.40" width="239.40" height="27.20" fill="#fff" stroke="#999" stroke-width="1"/>
<line x1="847.30" y1="933.00" x2="1086.70" y2="933.00" stroke="#999" stroke-width="0.9"/>
<text x="967.00" y="924.30" font-size="12.648000000000016" fill="#0b7cf6" font-weight="bold" text-anchor="middle" textLength="179.00" lengthAdjust="spacingAndGlyphs" dominant-baseline="central">Armado de castillos/columnas</text>
<line x1="891.50" y1="933.00" x2="891.50" y2="941.60" stroke="#999" stroke-width="0.9"/>
<line x1="913.40" y1="933.00" x2="913.40" y2="941.60" stroke="#999" stroke-width="0.9"/>
<line x1="954.60" y1="933.00" x2="954.60" y2="941.60" stroke="#999" stroke-width="0.9"/>
<line x1="1045.60" y1="933.00" x2="1045.60" y2="941.60" stroke="#999" stroke-width="0.9"/>
<text x="869.40" y="937.50" font-size="5" fill="#222" font-weight="bold" text-anchor="middle" textLength="39.00" lengthAdjust="spacingAndGlyphs" dominant-baseline="central">DESCRIPCION</text>
<text x="902.45" y="937.50" font-size="5" fill="#222" font-weight="bold" text-anchor="middle" textLength="18.70" lengthAdjust="spacingAndGlyphs" dominant-baseline="central">CLAVE</text>
<text x="934.00" y="937.50" font-size="5" fill="#222" font-weight="bold" text-anchor="middle" textLength="32.50" lengthAdjust="spacingAndGlyphs" dominant-baseline="central">DIMENSION</text>
<text x="1000.10" y="937.50" font-size="5" fill="#222" font-weight="bold" text-anchor="middle" textLength="26.80" lengthAdjust="spacingAndGlyphs" dominant-baseline="central">ARMADO</text>
<text x="1066.15" y="937.50" font-size="5" fill="#222" font-weight="bold" text-anchor="middle" textLength="35.00" lengthAdjust="spacingAndGlyphs" dominant-baseline="central">RESISTENCIA</text>
<rect x="847.30" y="952.40" width="239.40" height="46.00" fill="#fff" stroke="#999" stroke-width="1"/>
<line x1="891.50" y1="952.40" x2="891.50" y2="998.40" stroke="#999" stroke-width="0.9"/>
<line x1="913.40" y1="952.40" x2="913.40" y2="998.40" stroke="#999" stroke-width="0.9"/>
<line x1="954.60" y1="952.40" x2="954.60" y2="998.40" stroke="#999" stroke-width="0.9"/>
<line x1="1045.60" y1="952.40" x2="1045.60" y2="998.40" stroke="#999" stroke-width="0.9"/>
<line x1="847.30" y1="975.40" x2="1086.70" y2="975.40" stroke="#999" stroke-width="0.9"/>
<text x="869.40" y="957.00" font-size="5.6" fill="#222" font-weight="bold" text-anchor="middle" textLength="29.00" lengthAdjust="spacingAndGlyphs" dominant-baseline="central">Castillo de</text>
<text x="869.40" y="964.10" font-size="5.6" fill="#222" font-weight="bold" text-anchor="middle" textLength="26.50" lengthAdjust="spacingAndGlyphs" dominant-baseline="central">concreto</text>
<text x="869.40" y="971.20" font-size="5.6" fill="#222" font-weight="bold" text-anchor="middle" textLength="24.00" lengthAdjust="spacingAndGlyphs" dominant-baseline="central">armado.</text>
<text x="902.45" y="964.10" font-size="5.6" fill="#222" font-weight="bold" text-anchor="middle" textLength="12.50" lengthAdjust="spacingAndGlyphs" dominant-baseline="central">K-01</text>
<text x="934.00" y="964.10" font-size="5.6" fill="#222" font-weight="bold" text-anchor="middle" textLength="37.50" lengthAdjust="spacingAndGlyphs" dominant-baseline="central">(15 X 15) CM</text>
<text x="1000.10" y="960.55" font-size="5.6" fill="#222" font-weight="bold" text-anchor="middle" textLength="87.00" lengthAdjust="spacingAndGlyphs" dominant-baseline="central">Armex de (15 x 15) + Refuerzo</text>
<text x="1000.10" y="967.65" font-size="5.6" fill="#222" font-weight="bold" text-anchor="middle" textLength="55.00" lengthAdjust="spacingAndGlyphs" dominant-baseline="central">de 4 varillas del #3.</text>
<text x="1066.15" y="964.10" font-size="5.6" fill="#222" font-weight="bold" text-anchor="middle" textLength="37.50" lengthAdjust="spacingAndGlyphs" dominant-baseline="central">250 KG/CM2</text>
<text x="869.40" y="980.00" font-size="5.6" fill="#222" font-weight="bold" text-anchor="middle" textLength="29.00" lengthAdjust="spacingAndGlyphs" dominant-baseline="central">Castillo de</text>
<text x="869.40" y="987.10" font-size="5.6" fill="#222" font-weight="bold" text-anchor="middle" textLength="26.50" lengthAdjust="spacingAndGlyphs" dominant-baseline="central">concreto</text>
<text x="869.40" y="994.20" font-size="5.6" fill="#222" font-weight="bold" text-anchor="middle" textLength="24.00" lengthAdjust="spacingAndGlyphs" dominant-baseline="central">armado.</text>
<text x="902.45" y="987.10" font-size="5.6" fill="#222" font-weight="bold" text-anchor="middle" textLength="12.50" lengthAdjust="spacingAndGlyphs" dominant-baseline="central">K-02</text>
<text x="934.00" y="987.10" font-size="5.6" fill="#222" font-weight="bold" text-anchor="middle" textLength="37.50" lengthAdjust="spacingAndGlyphs" dominant-baseline="central">(15 X 30) CM</text>
<text x="1000.10" y="980.00" font-size="5.6" fill="#222" font-weight="bold" text-anchor="middle" textLength="83.00" lengthAdjust="spacingAndGlyphs" dominant-baseline="central">Armado con 4 varillas del #4</text>
<text x="1000.10" y="987.10" font-size="5.6" fill="#222" font-weight="bold" text-anchor="middle" textLength="81.00" lengthAdjust="spacingAndGlyphs" dominant-baseline="central">+ 2 varillas del #3 y estribos</text>
<text x="1000.10" y="994.20" font-size="5.6" fill="#222" font-weight="bold" text-anchor="middle" textLength="45.00" lengthAdjust="spacingAndGlyphs" dominant-baseline="central">del #3 @ 20 cm.</text>
<text x="1066.15" y="987.10" font-size="5.6" fill="#222" font-weight="bold" text-anchor="middle" textLength="37.50" lengthAdjust="spacingAndGlyphs" dominant-baseline="central">250 KG/CM2</text>
<text x="607.10" y="876.20" font-size="15.3" fill="#2e6db4" font-weight="bold" text-anchor="middle" textLength="47.50" lengthAdjust="spacingAndGlyphs">TRABES</text>
<rect x="485.60" y="920.70" width="53.10" height="105.60" fill="url(#speck)" stroke="#111" stroke-width="1.8"/>
<rect x="494.70" y="929.80" width="34.90" height="87.20" rx="3.4" fill="none" stroke="#6f6f6f" stroke-width="3.3"/>
<rect x="494.70" y="929.80" width="34.90" height="87.20" rx="3.4" fill="none" stroke="#d0d0d0" stroke-width="1.1"/>
<circle cx="499.60" cy="934.70" r="1.45" fill="#111" stroke="none" stroke-width="0"/>
<circle cx="524.80" cy="934.70" r="1.45" fill="#111" stroke="none" stroke-width="0"/>
<circle cx="499.60" cy="1012.40" r="1.45" fill="#111" stroke="none" stroke-width="0"/>
<circle cx="524.80" cy="1012.40" r="1.45" fill="#111" stroke="none" stroke-width="0"/>
<line x1="523.80" y1="1013.90" x2="506.80" y2="996.90" stroke="#6f6f6f" stroke-width="3" stroke-linecap="square"/>
<line x1="523.80" y1="1013.90" x2="506.80" y2="996.90" stroke="#eee" stroke-width="0.9"/>
<line x1="526.30" y1="1009.40" x2="511.30" y2="994.40" stroke="#6f6f6f" stroke-width="3" stroke-linecap="square"/>
<line x1="526.30" y1="1009.40" x2="511.30" y2="994.40" stroke="#eee" stroke-width="0.9"/>
<text x="512.15" y="901.90" font-size="5.6" fill="#222" font-weight="bold" text-anchor="middle" font-style="italic" dominant-baseline="central">TR-01</text>
<text x="512.15" y="908.10" font-size="4.6" fill="#777" text-anchor="middle" textLength="31.00" lengthAdjust="spacingAndGlyphs" dominant-baseline="central">(15 X 30) CM</text>
<rect x="586.40" y="920.70" width="52.70" height="105.60" fill="url(#speck)" stroke="#111" stroke-width="1.8"/>
<rect x="595.50" y="929.80" width="34.70" height="87.20" rx="3.4" fill="none" stroke="#6f6f6f" stroke-width="3.3"/>
<rect x="595.50" y="929.80" width="34.70" height="87.20" rx="3.4" fill="none" stroke="#d0d0d0" stroke-width="1.1"/>
<circle cx="600.40" cy="934.70" r="1.45" fill="#111" stroke="none" stroke-width="0"/>
<circle cx="625.40" cy="934.70" r="1.45" fill="#111" stroke="none" stroke-width="0"/>
<circle cx="600.40" cy="1012.40" r="1.45" fill="#111" stroke="none" stroke-width="0"/>
<circle cx="625.40" cy="1012.40" r="1.45" fill="#111" stroke="none" stroke-width="0"/>
<line x1="624.40" y1="1013.90" x2="607.40" y2="996.90" stroke="#6f6f6f" stroke-width="3" stroke-linecap="square"/>
<line x1="624.40" y1="1013.90" x2="607.40" y2="996.90" stroke="#eee" stroke-width="0.9"/>
<line x1="626.90" y1="1009.40" x2="611.90" y2="994.40" stroke="#6f6f6f" stroke-width="3" stroke-linecap="square"/>
<line x1="626.90" y1="1009.40" x2="611.90" y2="994.40" stroke="#eee" stroke-width="0.9"/>
<text x="612.75" y="901.90" font-size="5.6" fill="#222" font-weight="bold" text-anchor="middle" font-style="italic" dominant-baseline="central">TR-02</text>
<text x="612.75" y="908.10" font-size="4.6" fill="#777" text-anchor="middle" textLength="31.00" lengthAdjust="spacingAndGlyphs" dominant-baseline="central">(15 X 30) CM</text>
<rect x="691.40" y="885.80" width="53.30" height="140.50" fill="url(#speck)" stroke="#111" stroke-width="1.8"/>
<rect x="700.70" y="895.50" width="34.90" height="121.50" rx="3.4" fill="none" stroke="#6f6f6f" stroke-width="3.3"/>
<rect x="700.70" y="895.50" width="34.90" height="121.50" rx="3.4" fill="none" stroke="#d0d0d0" stroke-width="1.1"/>
<circle cx="705.60" cy="900.40" r="1.45" fill="#111" stroke="none" stroke-width="0"/>
<circle cx="730.80" cy="900.40" r="1.45" fill="#111" stroke="none" stroke-width="0"/>
<circle cx="705.60" cy="1012.40" r="1.45" fill="#111" stroke="none" stroke-width="0"/>
<circle cx="730.80" cy="1012.40" r="1.45" fill="#111" stroke="none" stroke-width="0"/>
<circle cx="705.60" cy="956.40" r="1.45" fill="#111" stroke="none" stroke-width="0"/>
<circle cx="730.80" cy="956.40" r="1.45" fill="#111" stroke="none" stroke-width="0"/>
<line x1="705.10" y1="1012.90" x2="728.60" y2="986.40" stroke="#6f6f6f" stroke-width="3" stroke-linecap="square"/>
<line x1="705.10" y1="1012.90" x2="728.60" y2="986.40" stroke="#eee" stroke-width="0.9"/>
<line x1="708.10" y1="1014.90" x2="731.60" y2="990.40" stroke="#6f6f6f" stroke-width="3" stroke-linecap="square"/>
<line x1="708.10" y1="1014.90" x2="731.60" y2="990.40" stroke="#eee" stroke-width="0.9"/>
<text x="718.05" y="866.50" font-size="5.6" fill="#222" font-weight="bold" text-anchor="middle" font-style="italic" dominant-baseline="central">TR-03</text>
<text x="718.05" y="873.30" font-size="4.6" fill="#777" text-anchor="middle" textLength="31.00" lengthAdjust="spacingAndGlyphs" dominant-baseline="central">(15 X 40) CM</text>
<line x1="718.00" y1="876.00" x2="718.00" y2="885.80" stroke="#888" stroke-width="0.6"/>
<circle cx="718.00" cy="885.80" r="2.20" fill="#111" stroke="none" stroke-width="0"/>
<line x1="475.30" y1="917.70" x2="475.30" y2="1029.30" stroke="#888" stroke-width="0.7"/>
<line x1="472.30" y1="920.70" x2="478.30" y2="920.70" stroke="#bbb" stroke-width="0.5"/>
<line x1="472.10" y1="923.90" x2="478.50" y2="917.50" stroke="#444" stroke-width="0.8"/>
<line x1="472.30" y1="1026.30" x2="478.30" y2="1026.30" stroke="#bbb" stroke-width="0.5"/>
<line x1="472.10" y1="1029.50" x2="478.50" y2="1023.10" stroke="#444" stroke-width="0.8"/>
<text x="468.20" y="974.00" font-size="6.8" fill="#222" font-weight="bold" text-anchor="middle" dominant-baseline="central" transform="rotate(-90 468.20 974.00)">0.30</text>
<line x1="577.50" y1="917.70" x2="577.50" y2="1029.30" stroke="#888" stroke-width="0.7"/>
<line x1="574.50" y1="920.70" x2="580.50" y2="920.70" stroke="#bbb" stroke-width="0.5"/>
<line x1="574.30" y1="923.90" x2="580.70" y2="917.50" stroke="#444" stroke-width="0.8"/>
<line x1="574.50" y1="1026.30" x2="580.50" y2="1026.30" stroke="#bbb" stroke-width="0.5"/>
<line x1="574.30" y1="1029.50" x2="580.70" y2="1023.10" stroke="#444" stroke-width="0.8"/>
<text x="570.30" y="974.00" font-size="6.8" fill="#222" font-weight="bold" text-anchor="middle" dominant-baseline="central" transform="rotate(-90 570.30 974.00)">0.30</text>
<line x1="683.20" y1="882.80" x2="683.20" y2="1029.30" stroke="#888" stroke-width="0.7"/>
<line x1="680.20" y1="885.80" x2="686.20" y2="885.80" stroke="#bbb" stroke-width="0.5"/>
<line x1="680.00" y1="889.00" x2="686.40" y2="882.60" stroke="#444" stroke-width="0.8"/>
<line x1="680.20" y1="1026.30" x2="686.20" y2="1026.30" stroke="#bbb" stroke-width="0.5"/>
<line x1="680.00" y1="1029.50" x2="686.40" y2="1023.10" stroke="#444" stroke-width="0.8"/>
<text x="675.50" y="955.60" font-size="6.8" fill="#222" font-weight="bold" text-anchor="middle" dominant-baseline="central" transform="rotate(-90 675.50 955.60)">0.40</text>
<line x1="483.60" y1="1038.00" x2="540.70" y2="1038.00" stroke="#888" stroke-width="0.7"/>
<line x1="485.60" y1="1035.00" x2="485.60" y2="1041.00" stroke="#bbb" stroke-width="0.5"/>
<line x1="482.40" y1="1041.20" x2="488.80" y2="1034.80" stroke="#444" stroke-width="0.8"/>
<line x1="538.70" y1="1035.00" x2="538.70" y2="1041.00" stroke="#bbb" stroke-width="0.5"/>
<line x1="535.50" y1="1041.20" x2="541.90" y2="1034.80" stroke="#444" stroke-width="0.8"/>
<text x="511.60" y="1031.30" font-size="6.8" fill="#222" font-weight="bold" text-anchor="middle" dominant-baseline="central">0.15</text>
<line x1="584.40" y1="1038.00" x2="641.10" y2="1038.00" stroke="#888" stroke-width="0.7"/>
<line x1="586.40" y1="1035.00" x2="586.40" y2="1041.00" stroke="#bbb" stroke-width="0.5"/>
<line x1="583.20" y1="1041.20" x2="589.60" y2="1034.80" stroke="#444" stroke-width="0.8"/>
<line x1="639.10" y1="1035.00" x2="639.10" y2="1041.00" stroke="#bbb" stroke-width="0.5"/>
<line x1="635.90" y1="1041.20" x2="642.30" y2="1034.80" stroke="#444" stroke-width="0.8"/>
<text x="612.30" y="1031.30" font-size="6.8" fill="#222" font-weight="bold" text-anchor="middle" dominant-baseline="central">0.15</text>
<line x1="689.40" y1="1039.50" x2="746.70" y2="1039.50" stroke="#888" stroke-width="0.7"/>
<line x1="691.40" y1="1036.50" x2="691.40" y2="1042.50" stroke="#bbb" stroke-width="0.5"/>
<line x1="688.20" y1="1042.70" x2="694.60" y2="1036.30" stroke="#444" stroke-width="0.8"/>
<line x1="744.70" y1="1036.50" x2="744.70" y2="1042.50" stroke="#bbb" stroke-width="0.5"/>
<line x1="741.50" y1="1042.70" x2="747.90" y2="1036.30" stroke="#444" stroke-width="0.8"/>
<text x="718.00" y="1032.30" font-size="6.8" fill="#222" font-weight="bold" text-anchor="middle" dominant-baseline="central">0.15</text></svg>
</body></html>
